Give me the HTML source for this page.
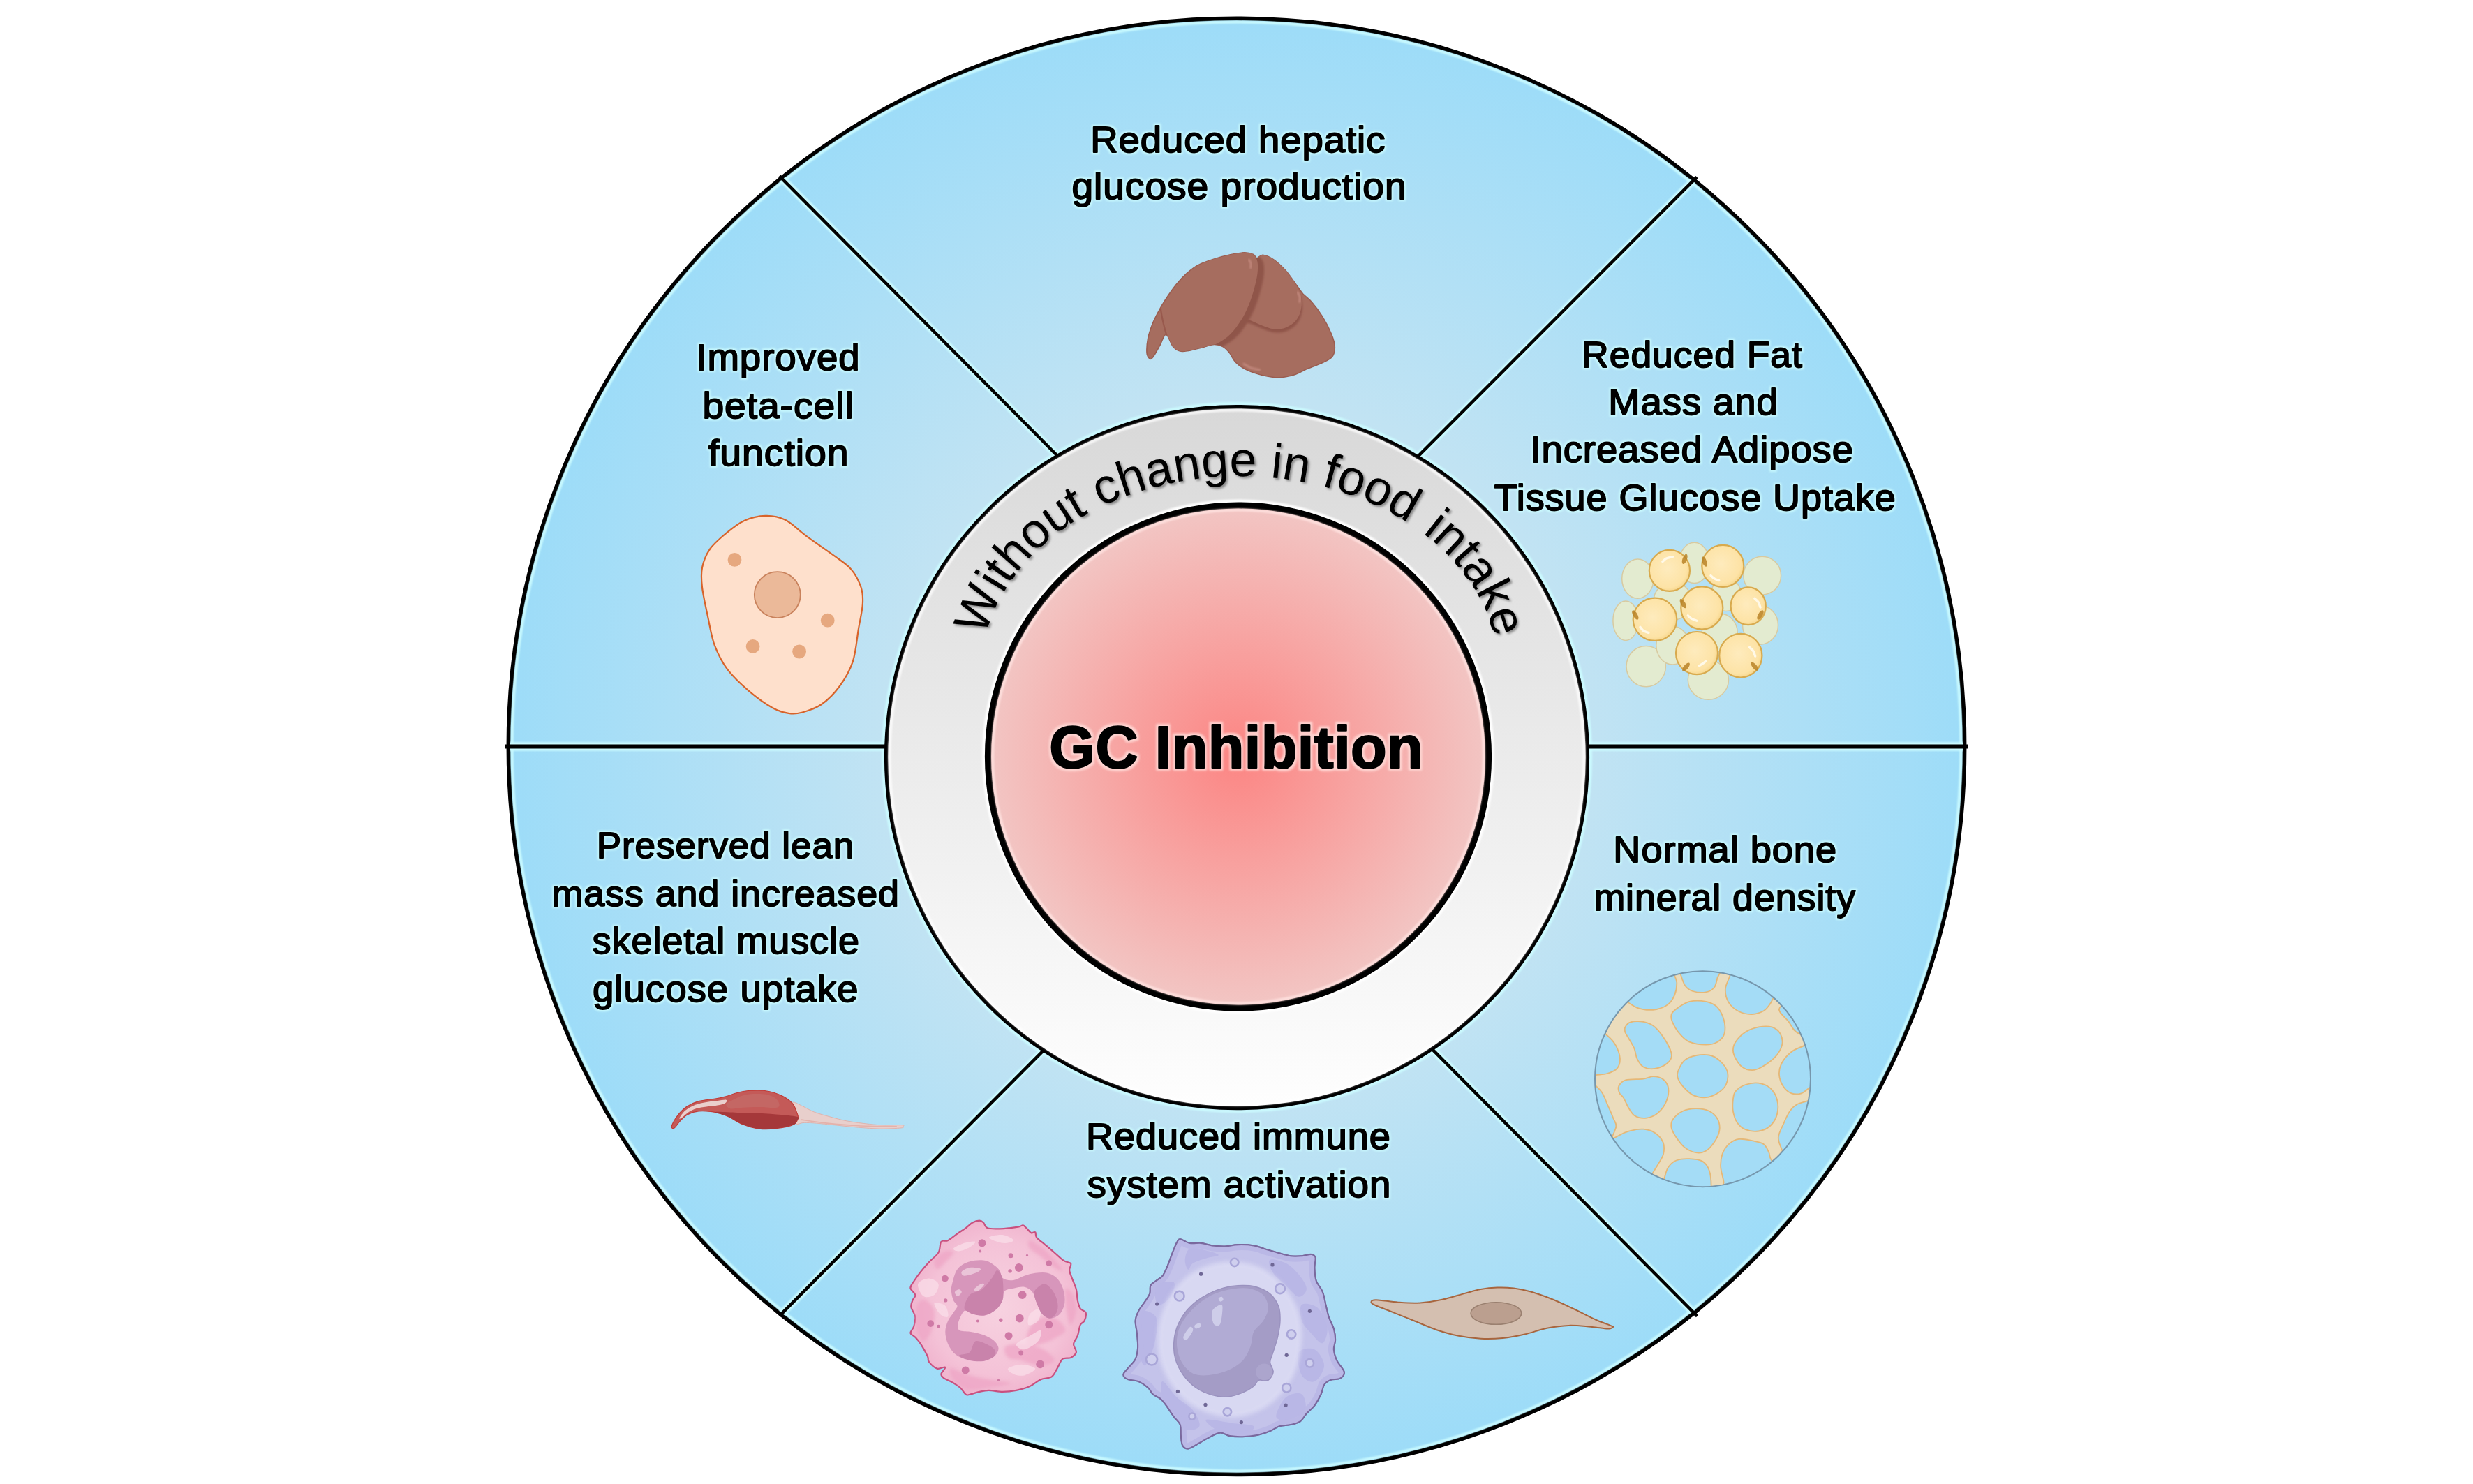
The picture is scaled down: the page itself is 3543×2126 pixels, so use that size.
<!DOCTYPE html>
<html>
<head>
<meta charset="utf-8">
<title>GC Inhibition</title>
<style>
html,body{margin:0;padding:0;background:#fff;}
body{width:3543px;height:2126px;overflow:hidden;font-family:"Liberation Sans",sans-serif;}
svg{display:block;position:absolute;left:0;top:0;}
.lbl{font-family:"Liberation Sans",sans-serif;font-weight:normal;font-size:51px;fill:#000;text-anchor:middle;stroke:#000;stroke-width:1.8px;stroke-linejoin:round;}
.ttl{font-family:"Liberation Sans",sans-serif;font-weight:bold;font-size:84.5px;fill:#000;text-anchor:middle;stroke:#000;stroke-width:2.2px;stroke-linejoin:round;}
.arc{font-family:"Liberation Sans",sans-serif;font-weight:normal;font-size:70px;fill:#000;text-anchor:start;}
</style>
</head>
<body>
<svg width="3543" height="2126" viewBox="0 0 3543 2126">
<defs>
<radialGradient id="gBlue" gradientUnits="userSpaceOnUse" cx="1771.5" cy="1069.4" r="1042.6">
<stop offset="0" stop-color="#e1eaef"/>
<stop offset="0.485" stop-color="#c1e3f3"/>
<stop offset="1" stop-color="#9ddcf8"/>
</radialGradient>
<linearGradient id="gRing" gradientUnits="userSpaceOnUse" x1="0" y1="583" x2="0" y2="1588">
<stop offset="0" stop-color="#d8d8d8"/>
<stop offset="1" stop-color="#fefefe"/>
</linearGradient>
<radialGradient id="gRed" gradientUnits="userSpaceOnUse" cx="1774" cy="1084" r="360">
<stop offset="0" stop-color="#fc8583"/>
<stop offset="1" stop-color="#f2c6c4"/>
</radialGradient>
<filter id="fSh" x="-5%" y="-20%" width="110%" height="140%">
<feDropShadow dx="2.5" dy="2.5" stdDeviation="1.6" flood-color="#000" flood-opacity="0.38"/>
</filter>
<filter id="fHalo" x="-3%" y="-8%" width="106%" height="116%" color-interpolation-filters="sRGB">
<feMorphology in="SourceAlpha" operator="dilate" radius="2.4" result="d"/>
<feGaussianBlur in="d" stdDeviation="1.5" result="b"/>
<feFlood flood-color="#cbfcff" flood-opacity="0.88"/>
<feComposite in2="b" operator="in" result="h"/>
<feMerge><feMergeNode in="h"/><feMergeNode in="SourceGraphic"/></feMerge>
</filter>
<filter id="fHaloR" x="-3%" y="-8%" width="106%" height="116%" color-interpolation-filters="sRGB">
<feMorphology in="SourceAlpha" operator="dilate" radius="2.8" result="d"/>
<feGaussianBlur in="d" stdDeviation="1.5" result="b"/>
<feFlood flood-color="#ffdcd9" flood-opacity="0.85"/>
<feComposite in2="b" operator="in" result="h"/>
<feMerge><feMergeNode in="h"/><feMergeNode in="SourceGraphic"/></feMerge>
</filter>
<filter id="fB1" filterUnits="userSpaceOnUse" x="700" y="0" width="2150" height="2126"><feGaussianBlur stdDeviation="1"/></filter>
<clipPath id="cpOuter"><circle cx="1771.5" cy="1069.4" r="1041"/></clipPath>
<path id="arcPath" d="M 1406.88 960.23 A 369.7 278.04 0 0 1 2146.28 960.23"/>
</defs>

<g id="base">
<circle cx="1771.5" cy="1069.4" r="1043" fill="url(#gBlue)" stroke="#000" stroke-width="5.9"/>
<g clip-path="url(#cpOuter)"><g stroke="#cbfcff" stroke-opacity="0.95" fill="none" filter="url(#fB1)">
<g stroke-width="11">
<line x1="1116.6" y1="252.2" x2="1515" y2="653"/>
<line x1="2431.1" y1="253.6" x2="2031.6" y2="653.7"/>
<line x1="1117" y1="1884.9" x2="1495" y2="1504.8"/>
<line x1="2431.6" y1="1885.7" x2="2051" y2="1502.2"/>
</g>
<g stroke-width="12.5">
<line x1="723" y1="1069.6" x2="1272" y2="1069.6"/>
<line x1="2272" y1="1069.6" x2="2820" y2="1069.6"/>
</g>
<circle cx="1771.5" cy="1069.4" r="1038" stroke-width="4"/>
<circle cx="1772" cy="1085.1" r="507" stroke-width="4"/>
</g></g>
<g stroke="#000" stroke-width="4.6" fill="none">
<line x1="1116.6" y1="252.2" x2="1515" y2="653"/>
<line x1="2431.1" y1="253.6" x2="2031.6" y2="653.7"/>
<line x1="1117" y1="1884.9" x2="1495" y2="1504.8"/>
<line x1="2431.6" y1="1885.7" x2="2051" y2="1502.2"/>
</g>
<g stroke="#000" stroke-width="6" fill="none">
<line x1="723" y1="1069.6" x2="1272" y2="1069.6"/>
<line x1="2272" y1="1069.6" x2="2820" y2="1069.6"/>
</g>
</g>

<g id="centre">
<circle cx="1772" cy="1085.1" r="502.4" fill="url(#gRing)" stroke="#000" stroke-width="5.4"/>
<circle cx="1772" cy="1085.1" r="497.6" fill="none" stroke="#fff" stroke-opacity="0.75" stroke-width="4" filter="url(#fB1)"/>
<ellipse cx="1774" cy="1084" rx="358.5" ry="360" fill="none" stroke="#fff" stroke-opacity="0.95" stroke-width="17" filter="url(#fB1)"/>
<ellipse cx="1774" cy="1084" rx="358.5" ry="360" fill="url(#gRed)" stroke="#000" stroke-width="9.2"/>
<ellipse cx="1774" cy="1084" rx="351.9" ry="353.4" fill="none" stroke="#ffe3e1" stroke-opacity="0.85" stroke-width="4" filter="url(#fB1)"/>
<text class="arc" filter="url(#fSh)"><textPath href="#arcPath" startOffset="48.3">Without change in food <tspan dx="5">intake</tspan></textPath></text>
<text class="ttl" filter="url(#fHaloR)" x="1771.2" y="1100.2" letter-spacing="0.42">GC Inhibition</text>
</g>

<g id="icons">
<g id="liver">
<defs><clipPath id="cpLiver"><path d="M1782.9 361.8C1788.3 361.7 1792.6 363.1 1795.6 364.4C1798.6 365.7 1798.6 369.5 1800.8 369.7C1803.1 369.8 1805.2 365.0 1809.2 365.3C1813.2 365.7 1819.3 368.2 1824.7 371.8C1830.1 375.5 1836.6 381.7 1841.7 387.3C1846.9 393.0 1851.6 400.4 1855.7 405.9C1859.8 411.5 1862.7 416.3 1866.5 420.7C1870.4 425.0 1874.3 426.9 1878.9 432.3C1883.6 437.7 1889.7 445.5 1894.4 453.2C1899.2 460.9 1904.6 471.4 1907.6 478.8C1910.6 486.1 1912.1 491.9 1912.3 497.4C1912.4 502.8 1911.4 507.6 1908.4 511.3C1905.4 515.1 1900.6 516.9 1894.4 519.8C1888.2 522.8 1877.6 526.4 1871.2 529.1C1864.7 531.9 1862.2 534.5 1855.7 536.4C1849.2 538.4 1840.2 540.5 1832.5 540.8C1824.7 541.0 1817.0 539.5 1809.2 537.7C1801.5 535.8 1792.4 533.0 1786.0 529.9C1779.5 526.8 1774.6 523.2 1770.5 519.1C1766.3 514.9 1764.3 508.9 1761.2 505.1C1758.1 501.4 1755.5 498.5 1751.9 496.6C1748.3 494.7 1744.1 493.4 1739.5 493.5C1734.8 493.6 1730.4 495.8 1724.0 497.4C1717.5 498.9 1706.4 501.9 1700.7 502.8C1695.0 503.7 1693.2 503.8 1689.9 502.8C1686.5 501.8 1683.8 500.5 1680.6 496.6C1677.4 492.6 1673.6 479.5 1670.5 479.1C1667.4 478.7 1665.1 488.8 1662.0 494.3C1658.9 499.7 1654.4 508.3 1651.9 511.6C1649.5 514.9 1648.7 515.1 1647.3 514.1C1645.8 513.1 1643.5 510.7 1643.1 505.9C1642.6 501.0 1643.3 491.8 1644.6 485.0C1645.9 478.1 1648.5 471.0 1650.8 464.8C1653.2 458.6 1655.7 453.7 1658.9 447.8C1662.0 441.8 1665.3 435.9 1669.7 429.2C1674.1 422.5 1680.1 413.8 1685.2 407.5C1690.4 401.2 1695.6 395.8 1700.7 391.2C1705.9 386.6 1709.8 383.3 1716.2 379.9C1722.7 376.5 1731.7 373.6 1739.5 371.1C1747.2 368.6 1755.5 366.4 1762.7 364.9C1769.9 363.3 1777.4 361.8 1782.9 361.8Z"/></clipPath><filter id="fBl2" x="-10%" y="-10%" width="120%" height="120%"><feGaussianBlur stdDeviation="1.8"/></filter><filter id="fBl1" x="-20%" y="-20%" width="140%" height="140%"><feGaussianBlur stdDeviation="0.9"/></filter></defs>
<path d="M1782.9 361.8C1788.3 361.7 1792.6 363.1 1795.6 364.4C1798.6 365.7 1798.6 369.5 1800.8 369.7C1803.1 369.8 1805.2 365.0 1809.2 365.3C1813.2 365.7 1819.3 368.2 1824.7 371.8C1830.1 375.5 1836.6 381.7 1841.7 387.3C1846.9 393.0 1851.6 400.4 1855.7 405.9C1859.8 411.5 1862.7 416.3 1866.5 420.7C1870.4 425.0 1874.3 426.9 1878.9 432.3C1883.6 437.7 1889.7 445.5 1894.4 453.2C1899.2 460.9 1904.6 471.4 1907.6 478.8C1910.6 486.1 1912.1 491.9 1912.3 497.4C1912.4 502.8 1911.4 507.6 1908.4 511.3C1905.4 515.1 1900.6 516.9 1894.4 519.8C1888.2 522.8 1877.6 526.4 1871.2 529.1C1864.7 531.9 1862.2 534.5 1855.7 536.4C1849.2 538.4 1840.2 540.5 1832.5 540.8C1824.7 541.0 1817.0 539.5 1809.2 537.7C1801.5 535.8 1792.4 533.0 1786.0 529.9C1779.5 526.8 1774.6 523.2 1770.5 519.1C1766.3 514.9 1764.3 508.9 1761.2 505.1C1758.1 501.4 1755.5 498.5 1751.9 496.6C1748.3 494.7 1744.1 493.4 1739.5 493.5C1734.8 493.6 1730.4 495.8 1724.0 497.4C1717.5 498.9 1706.4 501.9 1700.7 502.8C1695.0 503.7 1693.2 503.8 1689.9 502.8C1686.5 501.8 1683.8 500.5 1680.6 496.6C1677.4 492.6 1673.6 479.5 1670.5 479.1C1667.4 478.7 1665.1 488.8 1662.0 494.3C1658.9 499.7 1654.4 508.3 1651.9 511.6C1649.5 514.9 1648.7 515.1 1647.3 514.1C1645.8 513.1 1643.5 510.7 1643.1 505.9C1642.6 501.0 1643.3 491.8 1644.6 485.0C1645.9 478.1 1648.5 471.0 1650.8 464.8C1653.2 458.6 1655.7 453.7 1658.9 447.8C1662.0 441.8 1665.3 435.9 1669.7 429.2C1674.1 422.5 1680.1 413.8 1685.2 407.5C1690.4 401.2 1695.6 395.8 1700.7 391.2C1705.9 386.6 1709.8 383.3 1716.2 379.9C1722.7 376.5 1731.7 373.6 1739.5 371.1C1747.2 368.6 1755.5 366.4 1762.7 364.9C1769.9 363.3 1777.4 361.8 1782.9 361.8Z" fill="#a66d5f" stroke="#9b5d50" stroke-width="1.6"/>
<g clip-path="url(#cpLiver)">
<path d="M1809.2 365.3C1814.4 364.6 1819.3 368.2 1824.7 371.8C1830.1 375.5 1836.6 381.7 1841.7 387.3C1846.9 393.0 1852.1 400.0 1855.7 405.9C1859.3 411.9 1862.0 417.0 1863.4 423.0C1864.9 428.9 1865.3 435.6 1864.2 441.6C1863.2 447.5 1861.0 454.0 1857.2 458.6C1853.5 463.3 1847.2 467.4 1841.7 469.5C1836.3 471.6 1830.1 471.8 1824.7 471.3C1819.3 470.9 1814.4 468.6 1809.2 466.7C1804.0 464.8 1798.9 462.0 1793.7 459.9C1788.5 457.7 1782.1 457.5 1778.2 454.0C1774.3 450.4 1770.5 446.2 1770.5 438.5C1770.5 430.7 1774.3 417.8 1778.2 407.5C1782.1 397.2 1788.5 383.5 1793.7 376.5C1798.9 369.5 1804.0 366.1 1809.2 365.3Z" fill="#90544a" transform="translate(1.2,5)" filter="url(#fBl2)"/>
<path d="M1809.2 365.3C1814.4 364.6 1819.3 368.2 1824.7 371.8C1830.1 375.5 1836.6 381.7 1841.7 387.3C1846.9 393.0 1852.1 400.0 1855.7 405.9C1859.3 411.9 1862.0 417.0 1863.4 423.0C1864.9 428.9 1865.3 435.6 1864.2 441.6C1863.2 447.5 1861.0 454.0 1857.2 458.6C1853.5 463.3 1847.2 467.4 1841.7 469.5C1836.3 471.6 1830.1 471.8 1824.7 471.3C1819.3 470.9 1814.4 468.6 1809.2 466.7C1804.0 464.8 1798.9 462.0 1793.7 459.9C1788.5 457.7 1782.1 457.5 1778.2 454.0C1774.3 450.4 1770.5 446.2 1770.5 438.5C1770.5 430.7 1774.3 417.8 1778.2 407.5C1782.1 397.2 1788.5 383.5 1793.7 376.5C1798.9 369.5 1804.0 366.1 1809.2 365.3Z" fill="#a66d5f"/>
<path d="M1782.9 361.8C1787.0 362.0 1792.5 362.2 1795.6 364.4C1798.7 366.6 1800.5 370.3 1801.5 374.9C1802.4 379.5 1802.2 385.5 1801.5 392.0C1800.7 398.4 1798.9 406.2 1796.8 413.7C1794.7 421.2 1792.2 429.4 1789.1 436.9C1786.0 444.4 1782.6 451.6 1778.2 458.6C1773.8 465.6 1768.4 473.2 1762.7 478.8C1757.0 484.3 1750.6 488.8 1744.1 491.9C1737.7 495.0 1731.2 495.6 1724.0 497.4C1716.7 499.2 1706.4 501.9 1700.7 502.8C1695.0 503.7 1693.2 503.8 1689.9 502.8C1686.5 501.8 1683.4 499.8 1680.6 496.6C1677.7 493.4 1674.6 487.9 1672.8 483.4C1671.1 478.9 1670.4 474.9 1670.0 469.5C1669.7 464.0 1670.0 457.1 1671.0 450.9C1672.0 444.7 1673.6 438.5 1675.9 432.3C1678.3 426.1 1681.6 419.6 1685.2 413.7C1688.8 407.7 1693.2 401.7 1697.6 396.6C1702.0 391.6 1705.9 387.3 1711.6 383.5C1717.3 379.6 1724.5 376.2 1731.7 373.4C1739.0 370.5 1748.5 368.2 1755.0 366.4C1761.4 364.7 1765.8 363.6 1770.5 362.9C1775.1 362.1 1778.7 361.5 1782.9 361.8Z" fill="#8f5449" transform="translate(9,3.5)" filter="url(#fBl2)"/>
<path d="M1782.9 361.8C1787.0 362.0 1792.5 362.2 1795.6 364.4C1798.7 366.6 1800.5 370.3 1801.5 374.9C1802.4 379.5 1802.2 385.5 1801.5 392.0C1800.7 398.4 1798.9 406.2 1796.8 413.7C1794.7 421.2 1792.2 429.4 1789.1 436.9C1786.0 444.4 1782.6 451.6 1778.2 458.6C1773.8 465.6 1768.4 473.2 1762.7 478.8C1757.0 484.3 1750.6 488.8 1744.1 491.9C1737.7 495.0 1731.2 495.6 1724.0 497.4C1716.7 499.2 1706.4 501.9 1700.7 502.8C1695.0 503.7 1693.2 503.8 1689.9 502.8C1686.5 501.8 1683.4 499.8 1680.6 496.6C1677.7 493.4 1674.6 487.9 1672.8 483.4C1671.1 478.9 1670.4 474.9 1670.0 469.5C1669.7 464.0 1670.0 457.1 1671.0 450.9C1672.0 444.7 1673.6 438.5 1675.9 432.3C1678.3 426.1 1681.6 419.6 1685.2 413.7C1688.8 407.7 1693.2 401.7 1697.6 396.6C1702.0 391.6 1705.9 387.3 1711.6 383.5C1717.3 379.6 1724.5 376.2 1731.7 373.4C1739.0 370.5 1748.5 368.2 1755.0 366.4C1761.4 364.7 1765.8 363.6 1770.5 362.9C1775.1 362.1 1778.7 361.5 1782.9 361.8Z" fill="#a66d5f"/>
<path d="M1662.8 441.6C1663.1 443.6 1663.9 449.6 1664.8 454.0C1665.6 458.4 1666.7 463.4 1667.9 467.9C1669.0 472.4 1671.0 478.9 1671.6 481.1" fill="none" stroke="#98594d" stroke-width="2.2"/>
</g>
<path d="M1789.4 372.6C1789.8 373.4 1791.7 375.5 1792.2 377.3C1792.6 379.1 1791.9 382.4 1791.8 383.5" fill="none" stroke="#c98f84" stroke-width="3.4" stroke-linecap="round" opacity="0.7" filter="url(#fBl1)"/>
<path d="M1859.1 419.1C1859.6 420.1 1861.7 423.1 1862.2 425.3C1862.7 427.5 1861.9 431.1 1861.9 432.3" fill="none" stroke="#c98f84" stroke-width="3.4" stroke-linecap="round" opacity="0.7" filter="url(#fBl1)"/>
<path d="M1782.1 521.4C1783.8 522.3 1788.4 525.7 1792.2 527.1C1795.9 528.5 1802.5 529.4 1804.6 529.9" fill="none" stroke="#c98f84" stroke-width="3.4" stroke-linecap="round" opacity="0.7" filter="url(#fBl1)"/>
</g>
<g id="betacell">
<path d="M1096.8 738.9C1106.6 738.7 1115.3 739.9 1125.1 744.8C1134.9 749.7 1144.0 759.7 1155.8 768.4C1167.5 777.0 1185.2 788.8 1195.8 796.7C1206.5 804.6 1213.1 808.1 1219.4 815.6C1225.7 823.0 1230.8 833.3 1233.6 841.5C1236.3 849.8 1236.5 855.3 1235.9 865.1C1235.4 874.9 1232.4 886.7 1230.0 900.5C1227.7 914.2 1226.3 933.9 1221.8 947.6C1217.3 961.4 1210.4 972.8 1202.9 983.0C1195.5 993.2 1186.0 1002.7 1177.0 1009.0C1167.9 1015.3 1156.5 1018.6 1148.7 1020.8C1140.8 1022.9 1136.9 1023.1 1129.8 1021.9C1122.7 1020.8 1115.7 1019.0 1106.2 1013.7C1096.8 1008.4 1083.8 999.1 1073.2 990.1C1062.6 981.1 1050.8 970.4 1042.5 959.4C1034.3 948.4 1028.4 936.6 1023.7 924.1C1019.0 911.5 1017.2 897.7 1014.2 884.0C1011.3 870.2 1007.4 853.3 1006.0 841.5C1004.6 829.7 1004.2 822.2 1006.0 813.2C1007.8 804.2 1011.3 795.1 1016.6 787.3C1021.9 779.4 1029.6 772.9 1037.8 766.0C1046.1 759.2 1056.3 750.5 1066.1 746.0C1076.0 741.5 1087.0 739.1 1096.8 738.9Z" fill="#fee0cc" stroke="#d8632a" stroke-width="2.2"/>
<circle cx="1113.8" cy="852.1" r="33.0" fill="#ebb999" stroke="#c9825c" stroke-width="1.8"/>
<circle cx="1052.5" cy="801.9" r="9.9" fill="#e6a87f"/>
<circle cx="1185.7" cy="888.7" r="9.9" fill="#e6a87f"/>
<circle cx="1078.6" cy="925.9" r="9.9" fill="#e6a87f"/>
<circle cx="1145.1" cy="933.5" r="9.9" fill="#e6a87f"/>
</g>
<g id="fat">
<defs><radialGradient id="gFat" cx="0.45" cy="0.45" r="0.6"><stop offset="0" stop-color="#feebbd"/><stop offset="0.78" stop-color="#fde3a6"/><stop offset="1" stop-color="#f4d385"/></radialGradient></defs>
<ellipse cx="2346.4" cy="829.1" rx="22.7" ry="28.2" fill="#e3ebd0" stroke="#d8caa0" stroke-width="1.5"/>
<ellipse cx="2427.4" cy="806.4" rx="21.8" ry="29.1" fill="#e3ebd0" stroke="#d8caa0" stroke-width="1.5"/>
<ellipse cx="2524.7" cy="824.6" rx="26.9" ry="27.3" fill="#e3ebd0" stroke="#d8caa0" stroke-width="1.5"/>
<ellipse cx="2329.1" cy="889.2" rx="18.2" ry="28.2" fill="#e3ebd0" stroke="#d8caa0" stroke-width="1.5"/>
<ellipse cx="2522.0" cy="895.5" rx="25.5" ry="27.7" fill="#e3ebd0" stroke="#d8caa0" stroke-width="1.5"/>
<ellipse cx="2358.2" cy="954.7" rx="28.2" ry="29.1" fill="#e3ebd0" stroke="#d8caa0" stroke-width="1.5"/>
<ellipse cx="2447.4" cy="974.1" rx="29.1" ry="28.2" fill="#e3ebd0" stroke="#d8caa0" stroke-width="1.5"/>
<ellipse cx="2396.4" cy="861.0" rx="27.3" ry="27.3" fill="#e3ebd0" stroke="#d8caa0" stroke-width="1.5"/>
<ellipse cx="2463.7" cy="906.4" rx="25.5" ry="27.3" fill="#e3ebd0" stroke="#d8caa0" stroke-width="1.5"/>
<ellipse cx="2396.4" cy="924.6" rx="23.6" ry="27.3" fill="#e3ebd0" stroke="#d8caa0" stroke-width="1.5"/>
<ellipse cx="2472.8" cy="851.9" rx="21.8" ry="23.6" fill="#e3ebd0" stroke="#d8caa0" stroke-width="1.5"/>
<ellipse cx="2391.9" cy="817.3" rx="29.1" ry="29.5" fill="url(#gFat)" stroke="#d8aa4e" stroke-width="2.2"/>
<ellipse cx="2468.3" cy="810.9" rx="30.0" ry="30.0" fill="url(#gFat)" stroke="#d8aa4e" stroke-width="2.2"/>
<ellipse cx="2438.3" cy="871.0" rx="30.0" ry="30.6" fill="url(#gFat)" stroke="#d8aa4e" stroke-width="2.2"/>
<ellipse cx="2504.7" cy="868.2" rx="25.1" ry="26.9" fill="url(#gFat)" stroke="#d8aa4e" stroke-width="2.2"/>
<ellipse cx="2371.0" cy="887.3" rx="31.3" ry="30.6" fill="url(#gFat)" stroke="#d8aa4e" stroke-width="2.2"/>
<ellipse cx="2431.0" cy="935.6" rx="30.0" ry="30.6" fill="url(#gFat)" stroke="#d8aa4e" stroke-width="2.2"/>
<ellipse cx="2493.8" cy="939.2" rx="30.6" ry="31.3" fill="url(#gFat)" stroke="#d8aa4e" stroke-width="2.2"/>
<ellipse cx="2413.7" cy="800.9" rx="3.2" ry="7.5" transform="rotate(20 2413.7 800.9)" fill="#b98327" opacity="0.85"/>
<ellipse cx="2441.9" cy="804.6" rx="3.2" ry="7.5" transform="rotate(-20 2441.9 804.6)" fill="#b98327" opacity="0.85"/>
<ellipse cx="2411.3" cy="864.6" rx="3.2" ry="7.5" transform="rotate(-30 2411.3 864.6)" fill="#b98327" opacity="0.85"/>
<ellipse cx="2522.0" cy="881.0" rx="3.2" ry="7.5" transform="rotate(30 2522.0 881.0)" fill="#b98327" opacity="0.85"/>
<ellipse cx="2342.8" cy="881.0" rx="3.2" ry="7.5" transform="rotate(-30 2342.8 881.0)" fill="#b98327" opacity="0.85"/>
<ellipse cx="2415.5" cy="955.6" rx="3.2" ry="7.5" transform="rotate(40 2415.5 955.6)" fill="#b98327" opacity="0.85"/>
<ellipse cx="2513.8" cy="954.7" rx="3.2" ry="7.5" transform="rotate(-40 2513.8 954.7)" fill="#b98327" opacity="0.85"/>
<path d="M2381.9 804.6C2382.8 803.8 2384.9 801.2 2387.3 800.0C2389.8 798.9 2394.9 798.1 2396.4 797.7" fill="none" stroke="#fffbee" stroke-width="3.4" stroke-linecap="round" opacity="0.9"/>
<path d="M2451.0 824.6C2451.9 825.3 2454.5 828.0 2456.5 829.1C2458.4 830.3 2461.8 831.1 2462.8 831.5" fill="none" stroke="#fffbee" stroke-width="3.4" stroke-linecap="round" opacity="0.9"/>
<path d="M2418.3 881.9C2419.2 882.6 2421.6 885.2 2423.7 886.4C2425.8 887.7 2429.8 888.7 2431.0 889.2" fill="none" stroke="#fffbee" stroke-width="3.4" stroke-linecap="round" opacity="0.9"/>
<path d="M2513.8 857.3C2514.7 858.2 2517.9 860.7 2519.2 862.8C2520.6 864.9 2521.5 868.9 2522.0 870.1" fill="none" stroke="#fffbee" stroke-width="3.4" stroke-linecap="round" opacity="0.9"/>
<path d="M2350.0 898.3C2350.8 899.2 2352.6 902.4 2354.6 903.7C2356.6 905.1 2360.7 906.0 2361.9 906.4" fill="none" stroke="#fffbee" stroke-width="3.4" stroke-linecap="round" opacity="0.9"/>
<path d="M2434.6 953.7C2435.5 953.1 2438.6 951.2 2440.1 950.1C2441.6 949.0 2443.1 947.8 2443.7 947.4" fill="none" stroke="#fffbee" stroke-width="3.4" stroke-linecap="round" opacity="0.9"/>
<path d="M2506.5 927.4C2507.4 928.3 2510.6 930.7 2511.9 932.8C2513.3 934.9 2514.2 938.9 2514.7 940.1" fill="none" stroke="#fffbee" stroke-width="3.4" stroke-linecap="round" opacity="0.9"/>
</g>
<g id="bone">
<defs><clipPath id="cpBone"><circle cx="2439.5" cy="1545.7" r="154.5"/></clipPath></defs>
<circle cx="2439.5" cy="1545.7" r="154.5" fill="#ebdcbc"/>
<g clip-path="url(#cpBone)" fill="#a4dcf6" stroke="#e6b877" stroke-width="1.8">
<path d="M2403.9 1379.4C2394.5 1382.6 2406.9 1392.8 2408.6 1398.3C2410.4 1403.8 2411.8 1408.8 2414.5 1412.5C2417.3 1416.1 2420.2 1418.5 2425.1 1420.0C2430.0 1421.5 2438.9 1422.3 2444.0 1421.4C2449.1 1420.6 2453.0 1418.3 2455.8 1414.8C2458.6 1411.4 2458.9 1406.6 2460.5 1400.7C2462.1 1394.8 2474.7 1383.0 2465.2 1379.4C2455.8 1375.9 2413.3 1376.3 2403.9 1379.4Z"/>
<path d="M2295.4 1405.4C2285.9 1415.5 2325.7 1431.2 2335.5 1437.9C2345.3 1444.7 2348.1 1444.6 2354.4 1446.0C2360.7 1447.3 2367.3 1447.1 2373.2 1446.0C2379.1 1444.8 2385.4 1442.3 2389.7 1438.9C2394.1 1435.5 2397.1 1430.6 2399.2 1425.4C2401.3 1420.2 2402.4 1412.9 2402.3 1407.7C2402.1 1402.6 2399.7 1399.9 2398.0 1394.8C2396.3 1389.7 2409.2 1375.3 2392.1 1377.1C2375.0 1378.8 2304.8 1395.2 2295.4 1405.4Z"/>
<path d="M2484.1 1379.4C2465.4 1381.8 2480.3 1392.0 2478.2 1398.3C2476.2 1404.6 2472.1 1410.9 2471.8 1417.2C2471.6 1423.5 2473.3 1430.7 2476.6 1436.1C2479.8 1441.4 2485.6 1446.2 2491.2 1449.0C2496.8 1451.9 2504.2 1453.2 2510.1 1453.0C2516.0 1452.9 2522.3 1450.7 2526.6 1448.3C2530.8 1446.0 2533.1 1442.1 2535.5 1438.9C2538.0 1435.7 2538.4 1433.0 2541.2 1429.0C2544.0 1425.0 2544.3 1422.3 2552.5 1414.8C2560.7 1407.4 2601.7 1390.1 2590.3 1384.2C2578.9 1378.3 2502.8 1377.1 2484.1 1379.4Z"/>
<path d="M2551.3 1442.0C2542.9 1447.8 2558.8 1457.9 2563.1 1464.4C2567.5 1470.8 2568.8 1476.9 2577.3 1480.9C2585.7 1484.8 2607.8 1496.6 2613.9 1488.0C2620.0 1479.3 2624.3 1436.6 2613.9 1429.0C2603.4 1421.3 2559.8 1436.1 2551.3 1442.0Z"/>
<path d="M2401.5 1445.5C2405.9 1442.3 2413.3 1436.6 2420.4 1434.9C2427.5 1433.1 2437.3 1433.5 2444.0 1434.9C2450.7 1436.2 2456.2 1438.6 2460.5 1443.1C2464.8 1447.7 2468.3 1455.7 2470.0 1462.0C2471.6 1468.3 2472.0 1475.8 2470.4 1480.9C2468.9 1486.0 2464.9 1490.0 2460.5 1492.7C2456.1 1495.3 2450.7 1496.7 2444.0 1496.7C2437.3 1496.7 2426.7 1495.3 2420.4 1492.7C2414.1 1490.0 2410.3 1485.6 2406.3 1480.9C2402.2 1476.2 2398.1 1468.9 2396.1 1464.4C2394.2 1459.8 2393.6 1456.9 2394.5 1453.7C2395.4 1450.6 2397.2 1448.6 2401.5 1445.5Z"/>
<path d="M2328.4 1471.4C2329.7 1469.0 2331.6 1465.6 2336.0 1464.4C2340.3 1463.1 2348.5 1462.7 2354.4 1463.9C2360.2 1465.1 2365.4 1466.6 2370.9 1471.4C2376.4 1476.2 2383.4 1486.0 2387.4 1492.7C2391.4 1499.4 2394.7 1506.4 2394.9 1511.5C2395.1 1516.7 2392.6 1520.1 2388.6 1523.3C2384.6 1526.6 2376.6 1530.0 2370.9 1530.9C2365.2 1531.8 2358.6 1530.9 2354.4 1528.5C2350.1 1526.2 2347.6 1521.1 2345.4 1516.7C2343.2 1512.3 2343.4 1506.9 2341.4 1502.1C2339.4 1497.3 2335.8 1491.8 2333.6 1488.0C2331.4 1484.1 2329.3 1481.7 2328.4 1479.0C2327.5 1476.2 2327.2 1473.9 2328.4 1471.4Z"/>
<path d="M2486.5 1492.7C2489.4 1488.3 2495.1 1482.1 2500.6 1478.5C2506.1 1475.0 2513.2 1472.6 2519.5 1471.4C2525.8 1470.3 2533.2 1469.9 2538.4 1471.4C2543.6 1473.0 2548.2 1476.6 2550.6 1480.9C2553.1 1485.2 2554.3 1491.8 2553.0 1497.4C2551.7 1503.0 2547.9 1509.2 2543.1 1514.4C2538.3 1519.6 2529.7 1525.4 2524.2 1528.5C2518.7 1531.7 2514.8 1533.2 2510.1 1533.2C2505.3 1533.2 2499.8 1531.4 2495.9 1528.5C2492.0 1525.7 2488.6 1520.3 2486.5 1516.3C2484.3 1512.3 2482.9 1508.4 2482.9 1504.5C2482.9 1500.5 2483.5 1497.0 2486.5 1492.7Z"/>
<path d="M2403.9 1535.1C2405.5 1530.8 2409.0 1522.9 2413.3 1519.1C2417.7 1515.2 2424.0 1513.3 2429.9 1512.0C2435.7 1510.8 2443.1 1510.4 2448.7 1511.5C2454.3 1512.7 2459.0 1515.2 2463.3 1519.1C2467.7 1523.0 2473.1 1529.3 2474.7 1535.1C2476.2 1541.0 2475.1 1548.8 2472.8 1554.0C2470.4 1559.2 2465.3 1563.2 2460.5 1566.3C2455.7 1569.3 2449.9 1571.8 2444.0 1572.2C2438.1 1572.6 2430.6 1571.3 2425.1 1568.6C2419.6 1566.0 2414.5 1560.3 2411.0 1556.4C2407.4 1552.4 2405.1 1548.6 2403.9 1545.0C2402.7 1541.5 2402.3 1539.5 2403.9 1535.1Z"/>
<path d="M2260.0 1543.4C2261.8 1556.1 2277.7 1541.2 2284.8 1540.3C2291.8 1539.4 2297.2 1539.5 2302.5 1538.0C2307.8 1536.4 2313.6 1534.5 2316.6 1530.9C2319.7 1527.3 2321.2 1521.8 2320.9 1516.3C2320.5 1510.7 2317.7 1502.8 2314.7 1497.4C2311.7 1492.0 2309.7 1489.2 2302.9 1483.7C2296.2 1478.2 2281.3 1454.4 2274.2 1464.4C2267.0 1474.3 2258.2 1530.7 2260.0 1543.4Z"/>
<path d="M2319.0 1556.4C2320.4 1553.3 2323.0 1549.2 2328.9 1547.4C2334.8 1545.6 2347.8 1546.6 2354.4 1545.7C2361.0 1544.9 2363.8 1542.1 2368.5 1542.2C2373.2 1542.3 2379.1 1543.5 2382.7 1546.2C2386.3 1549.0 2389.4 1553.5 2390.2 1558.7C2391.0 1564.0 2389.8 1571.7 2387.4 1577.6C2385.0 1583.5 2380.3 1590.1 2375.6 1594.1C2370.9 1598.1 2364.6 1600.9 2359.1 1601.7C2353.6 1602.4 2346.9 1601.3 2342.6 1598.8C2338.2 1596.4 2335.9 1591.4 2333.1 1587.0C2330.4 1582.7 2328.2 1576.4 2326.1 1572.9C2323.9 1569.3 2321.3 1568.6 2320.2 1565.8C2319.0 1563.0 2317.5 1559.4 2319.0 1556.4Z"/>
<path d="M2613.9 1483.2C2609.2 1474.6 2593.9 1493.5 2586.0 1497.4C2578.2 1501.3 2572.3 1502.5 2566.7 1506.8C2561.1 1511.1 2555.5 1517.8 2552.5 1523.3C2549.6 1528.8 2548.6 1534.3 2549.0 1539.9C2549.4 1545.4 2551.9 1552.0 2554.9 1556.4C2557.8 1560.8 2562.4 1564.6 2566.7 1566.3C2571.0 1567.9 2576.1 1567.8 2580.8 1566.3C2585.5 1564.7 2589.5 1559.7 2595.0 1556.8C2600.5 1554.0 2610.7 1561.6 2613.9 1549.3C2617.0 1537.0 2618.5 1491.9 2613.9 1483.2Z"/>
<path d="M2486.5 1563.4C2489.4 1559.9 2495.1 1556.0 2500.6 1554.0C2506.1 1552.0 2513.6 1550.9 2519.5 1551.6C2525.4 1552.4 2531.6 1554.8 2536.0 1558.7C2540.4 1562.7 2544.3 1568.9 2545.9 1575.2C2547.6 1581.5 2547.6 1590.2 2545.9 1596.5C2544.3 1602.8 2540.4 1609.0 2536.0 1613.0C2531.6 1617.0 2525.4 1619.7 2519.5 1620.5C2513.6 1621.4 2505.7 1620.2 2500.6 1618.2C2495.5 1616.1 2491.8 1612.7 2488.8 1608.3C2485.9 1603.9 2483.9 1597.3 2482.9 1591.8C2481.9 1586.2 2482.3 1580.0 2482.9 1575.2C2483.5 1570.5 2483.5 1567.0 2486.5 1563.4Z"/>
<path d="M2396.8 1603.5C2399.6 1599.6 2405.5 1594.3 2411.0 1591.8C2416.5 1589.2 2423.6 1588.2 2429.9 1588.2C2436.1 1588.2 2443.5 1589.2 2448.7 1591.8C2453.9 1594.3 2458.6 1598.8 2461.0 1603.5C2463.4 1608.3 2464.2 1614.6 2463.3 1620.1C2462.5 1625.6 2459.0 1631.8 2455.8 1636.6C2452.6 1641.4 2448.3 1646.4 2444.0 1648.8C2439.7 1651.3 2435.0 1652.1 2429.9 1651.2C2424.7 1650.3 2418.1 1647.3 2413.3 1643.6C2408.6 1640.0 2404.7 1634.2 2401.5 1629.5C2398.4 1624.8 2395.3 1619.7 2394.5 1615.3C2393.7 1611.0 2394.1 1607.5 2396.8 1603.5Z"/>
<path d="M2283.6 1653.1C2278.5 1638.9 2310.3 1632.6 2319.0 1627.1C2327.6 1621.6 2329.6 1621.6 2335.5 1620.1C2341.4 1618.5 2348.5 1617.2 2354.4 1617.7C2360.3 1618.2 2366.2 1619.7 2370.9 1622.9C2375.6 1626.0 2380.6 1631.5 2382.7 1636.6C2384.7 1641.6 2384.3 1647.9 2383.1 1653.1C2382.0 1658.3 2378.2 1663.0 2375.6 1667.7C2373.0 1672.4 2371.7 1674.0 2367.3 1681.4C2363.0 1688.8 2363.6 1716.8 2349.6 1712.1C2335.7 1707.3 2288.7 1667.2 2283.6 1653.1Z"/>
<path d="M2274.2 1554.0C2273.8 1540.8 2288.2 1557.5 2293.0 1562.3C2297.8 1567.0 2299.9 1575.8 2302.9 1582.3C2305.9 1588.8 2309.0 1595.5 2311.0 1601.2C2312.9 1606.9 2317.3 1609.8 2314.7 1616.5C2312.1 1623.2 2302.1 1651.7 2295.4 1641.3C2288.6 1630.9 2274.5 1567.2 2274.2 1554.0Z"/>
<path d="M2378.0 1719.1C2367.3 1713.6 2383.0 1694.0 2385.0 1686.1C2387.1 1678.2 2387.5 1675.9 2390.2 1672.0C2393.0 1668.0 2396.5 1664.5 2401.5 1662.5C2406.6 1660.6 2414.1 1659.9 2420.4 1660.2C2426.7 1660.4 2434.6 1661.2 2439.3 1663.9C2444.0 1666.7 2446.7 1670.8 2448.7 1676.7C2450.8 1682.5 2451.6 1692.0 2451.6 1699.1C2451.6 1706.2 2461.0 1715.8 2448.7 1719.1C2436.5 1722.5 2388.6 1724.6 2378.0 1719.1Z"/>
<path d="M2472.3 1719.1C2456.1 1718.0 2470.7 1701.1 2469.5 1693.2C2468.3 1685.3 2465.6 1678.6 2465.2 1672.0C2464.9 1665.3 2465.6 1658.6 2467.6 1653.1C2469.6 1647.6 2473.1 1642.5 2477.0 1638.9C2481.0 1635.4 2485.7 1632.6 2491.2 1631.9C2496.7 1631.1 2504.2 1633.0 2510.1 1634.2C2516.0 1635.4 2522.6 1636.2 2526.6 1638.9C2530.6 1641.7 2532.1 1646.6 2534.1 1650.7C2536.2 1654.9 2533.4 1655.4 2538.8 1663.7C2544.3 1672.0 2577.8 1691.0 2566.7 1700.3C2555.6 1709.5 2488.5 1720.3 2472.3 1719.1Z"/>
<path d="M2566.7 1676.7C2556.5 1675.5 2555.7 1653.9 2552.5 1646.0C2549.4 1638.1 2547.4 1635.4 2547.8 1629.5C2548.2 1623.6 2552.1 1616.9 2554.9 1610.6C2557.6 1604.3 2561.1 1596.5 2564.3 1591.8C2567.5 1587.0 2570.2 1584.7 2574.2 1582.3C2578.2 1580.0 2581.8 1579.6 2588.4 1577.6C2595.0 1575.6 2609.6 1557.9 2613.9 1570.5C2618.1 1583.1 2621.7 1635.4 2613.9 1653.1C2606.0 1670.8 2576.9 1677.9 2566.7 1676.7Z"/>
</g>
<circle cx="2439.5" cy="1545.7" r="154.5" fill="none" stroke="#7697ad" stroke-width="2"/>
</g>
<g id="muscle">
<path d="M1135.8 1579.2C1137.4 1577.9 1145.7 1582.9 1150.8 1585.2C1155.9 1587.5 1160.0 1590.6 1166.6 1593.1C1173.1 1595.6 1182.3 1598.0 1190.2 1600.2C1198.1 1602.3 1204.7 1604.3 1213.9 1606.0C1223.1 1607.7 1236.2 1609.4 1245.4 1610.4C1254.6 1611.4 1261.2 1611.8 1269.1 1612.0C1276.9 1612.2 1288.6 1611.4 1292.7 1611.7C1296.9 1612.0 1294.2 1613.2 1294.0 1613.9C1293.7 1614.6 1296.6 1615.4 1291.1 1615.9C1285.7 1616.5 1271.4 1617.2 1261.2 1617.1C1250.9 1616.9 1240.2 1616.0 1229.6 1615.2C1219.1 1614.3 1208.6 1613.1 1198.1 1612.0C1187.6 1611.0 1174.4 1609.4 1166.6 1608.9C1158.7 1608.3 1155.3 1608.4 1150.8 1608.5C1146.3 1608.7 1141.3 1612.2 1139.7 1609.6C1138.2 1607.1 1142.0 1598.2 1141.3 1593.1C1140.7 1588.0 1134.2 1580.5 1135.8 1579.2Z" fill="#e8cfcc" stroke="#dfb3ad" stroke-width="1"/>
<path d="M1147.6 1604.1C1153.4 1604.9 1168.7 1607.4 1182.3 1608.9C1196.0 1610.3 1212.6 1612.0 1229.6 1612.8C1246.7 1613.6 1275.6 1613.7 1284.8 1613.9" fill="none" stroke="#e2aaa3" stroke-width="1.6" opacity="0.8"/>
<path d="M962.3 1613.3C963.2 1610.2 967.5 1602.4 971.0 1597.8C974.6 1593.2 978.6 1588.9 983.6 1585.5C988.6 1582.1 994.1 1579.5 1001.0 1577.6C1007.8 1575.7 1018.1 1575.3 1024.6 1574.2C1031.2 1573.0 1035.1 1572.1 1040.4 1570.7C1045.6 1569.2 1050.9 1566.9 1056.2 1565.5C1061.4 1564.1 1065.4 1563.0 1071.9 1562.5C1078.5 1562.0 1087.7 1561.3 1095.6 1562.5C1103.5 1563.6 1112.7 1566.4 1119.2 1569.4C1125.8 1572.4 1131.3 1576.5 1135.0 1580.5C1138.7 1584.4 1140.0 1589.5 1141.3 1593.1C1142.7 1596.6 1144.0 1598.7 1143.2 1601.8C1142.4 1604.8 1141.9 1608.7 1136.6 1611.2C1131.3 1613.7 1119.5 1615.8 1111.4 1616.7C1103.2 1617.7 1095.6 1618.1 1087.7 1617.1C1079.8 1616.1 1071.4 1613.6 1064.0 1610.7C1056.7 1607.9 1050.1 1602.6 1043.5 1599.7C1037.0 1596.8 1031.7 1594.7 1024.6 1593.4C1017.5 1592.1 1007.5 1591.3 1001.0 1591.8C994.4 1592.3 989.5 1594.3 985.2 1596.6C980.9 1598.8 978.2 1602.1 974.9 1605.4C971.7 1608.6 968.1 1614.6 966.0 1615.9C963.9 1617.3 961.5 1616.3 962.3 1613.3Z" fill="#c45a58" stroke="#c23a36" stroke-width="1.2"/>
<path d="M1040.4 1582.0C1040.9 1579.9 1045.9 1577.8 1049.9 1575.7C1053.8 1573.6 1059.1 1570.9 1064.0 1569.4C1069.0 1568.0 1074.3 1567.3 1079.8 1567.1C1085.3 1566.8 1092.2 1566.9 1097.2 1567.8C1102.2 1568.8 1106.6 1570.5 1109.8 1572.6C1112.9 1574.7 1115.6 1578.1 1116.1 1580.5C1116.6 1582.8 1117.7 1585.9 1112.9 1586.8C1108.2 1587.7 1095.9 1586.0 1087.7 1586.0C1079.6 1586.0 1070.9 1586.4 1064.0 1586.8C1057.2 1587.2 1050.6 1589.1 1046.7 1588.4C1042.8 1587.6 1039.9 1584.1 1040.4 1582.0Z" fill="#c46866" opacity="0.9"/>
<path d="M1024.6 1593.1C1026.7 1592.1 1045.6 1593.6 1056.2 1593.9C1066.7 1594.1 1077.2 1594.1 1087.7 1594.7C1098.2 1595.2 1110.0 1596.1 1119.2 1597.0C1128.5 1597.9 1139.4 1598.9 1143.2 1600.2C1147.0 1601.5 1143.2 1603.1 1142.1 1604.9C1141.0 1606.7 1141.7 1609.2 1136.6 1611.2C1131.5 1613.2 1119.5 1615.8 1111.4 1616.7C1103.2 1617.7 1095.6 1618.1 1087.7 1617.1C1079.8 1616.1 1071.4 1613.6 1064.0 1610.7C1056.7 1607.9 1050.1 1602.6 1043.5 1599.7C1037.0 1596.8 1022.5 1594.1 1024.6 1593.1Z" fill="#a5383a"/>
<path d="M973.4 1601.8C974.2 1600.0 978.2 1593.9 982.0 1590.7C985.9 1587.6 991.2 1584.8 996.2 1582.8C1001.2 1580.9 1006.7 1579.9 1012.0 1578.9C1017.3 1577.9 1023.0 1577.5 1027.8 1577.0C1032.5 1576.5 1038.6 1575.2 1040.4 1575.7C1042.2 1576.3 1040.9 1579.2 1038.8 1580.5C1036.7 1581.8 1032.2 1582.8 1027.8 1583.6C1023.3 1584.5 1017.0 1584.8 1012.0 1585.5C1007.0 1586.2 1002.0 1586.8 997.8 1588.0C993.6 1589.3 990.2 1590.9 986.8 1593.1C983.4 1595.2 979.5 1599.5 977.3 1601.0C975.1 1602.4 972.6 1603.5 973.4 1601.8Z" fill="#ecd6d4" opacity="0.95"/>
</g>
<g id="neutro">
<defs><radialGradient id="gNeu" cx="0.5" cy="0.5" r="0.55"><stop offset="0" stop-color="#f7d2e0"/><stop offset="0.7" stop-color="#f4c2d7"/><stop offset="1" stop-color="#efb0cb"/></radialGradient><filter id="fBlN" x="-10%" y="-10%" width="120%" height="120%"><feGaussianBlur stdDeviation="2.2"/></filter><clipPath id="cpNeu"><path d="M1403.1 1748.6C1405.7 1748.6 1407.0 1749.7 1409.0 1751.5C1410.9 1753.3 1410.9 1757.8 1414.8 1759.3C1418.8 1760.8 1427.2 1760.3 1432.4 1760.3C1437.6 1760.3 1441.6 1759.8 1446.1 1759.3C1450.7 1758.8 1456.5 1758.0 1459.8 1757.4C1463.0 1756.7 1463.9 1755.1 1465.7 1755.4C1467.4 1755.7 1468.6 1757.5 1470.5 1759.3C1472.5 1761.1 1475.3 1765.2 1477.4 1766.2C1479.5 1767.1 1481.9 1764.0 1483.2 1765.2C1484.5 1766.3 1482.9 1770.1 1485.2 1773.0C1487.5 1775.9 1492.7 1779.2 1496.9 1782.8C1501.2 1786.3 1506.0 1790.6 1510.6 1794.5C1515.2 1798.4 1520.4 1803.6 1524.3 1806.2C1528.2 1808.8 1532.8 1807.8 1534.1 1810.1C1535.4 1812.4 1531.8 1816.3 1532.1 1819.9C1532.4 1823.5 1534.4 1827.1 1536.0 1831.6C1537.6 1836.2 1540.6 1842.0 1541.9 1847.3C1543.2 1852.5 1542.8 1858.3 1543.8 1862.9C1544.8 1867.5 1545.8 1871.7 1547.7 1874.6C1549.7 1877.5 1554.6 1877.5 1555.6 1880.5C1556.5 1883.4 1554.9 1889.3 1553.6 1892.2C1552.3 1895.1 1549.4 1894.5 1547.7 1898.1C1546.1 1901.7 1545.5 1909.1 1543.8 1913.7C1542.2 1918.3 1538.3 1921.5 1538.0 1925.4C1537.6 1929.3 1542.5 1933.9 1541.9 1937.2C1541.2 1940.4 1537.3 1943.3 1534.1 1945.0C1530.8 1946.6 1525.6 1944.3 1522.3 1946.9C1519.1 1949.5 1517.1 1956.4 1514.5 1960.6C1511.9 1964.8 1510.6 1969.7 1506.7 1972.3C1502.8 1974.9 1496.3 1974.0 1491.1 1976.2C1485.8 1978.5 1481.3 1983.4 1475.4 1986.0C1469.6 1988.6 1462.4 1990.6 1455.9 1991.9C1449.4 1993.2 1442.9 1993.8 1436.3 1993.8C1429.8 1993.8 1422.3 1991.9 1416.8 1991.9C1411.3 1991.9 1407.7 1992.8 1403.1 1993.8C1398.6 1994.8 1392.7 1997.1 1389.4 1997.7C1386.2 1998.4 1385.9 1999.4 1383.6 1997.7C1381.3 1996.1 1379.0 1990.9 1375.8 1988.0C1372.5 1985.0 1367.9 1982.4 1364.0 1980.1C1360.1 1977.9 1354.9 1976.2 1352.3 1974.3C1349.7 1972.3 1348.1 1971.0 1348.4 1968.4C1348.7 1965.8 1355.2 1960.0 1354.3 1958.6C1353.3 1957.3 1346.4 1961.9 1342.5 1960.6C1338.6 1959.3 1333.1 1953.8 1330.8 1950.8C1328.5 1947.9 1330.8 1947.2 1328.9 1943.0C1326.9 1938.8 1322.0 1930.0 1319.1 1925.4C1316.2 1920.9 1313.7 1918.3 1311.3 1915.7C1308.8 1913.0 1304.8 1912.4 1304.4 1909.8C1304.1 1907.2 1308.2 1903.9 1309.3 1900.0C1310.5 1896.1 1311.9 1890.9 1311.3 1886.3C1310.6 1881.8 1306.1 1876.6 1305.4 1872.7C1304.8 1868.8 1306.4 1865.8 1307.4 1862.9C1308.3 1860.0 1311.8 1858.0 1311.3 1855.1C1310.8 1852.1 1304.8 1848.6 1304.4 1845.3C1304.1 1842.0 1306.9 1839.4 1309.3 1835.5C1311.8 1831.6 1315.5 1826.4 1319.1 1821.9C1322.7 1817.3 1326.6 1812.7 1330.8 1808.2C1335.0 1803.6 1341.6 1799.4 1344.5 1794.5C1347.4 1789.6 1346.1 1781.8 1348.4 1778.9C1350.7 1775.9 1354.3 1778.9 1358.2 1776.9C1362.1 1774.9 1367.6 1770.1 1371.9 1767.1C1376.1 1764.2 1380.0 1761.9 1383.6 1759.3C1387.2 1756.7 1390.1 1753.3 1393.3 1751.5C1396.6 1749.7 1400.5 1748.6 1403.1 1748.6Z"/></clipPath><clipPath id="cpNuc"><path d="M1364.0 1839.4C1365.5 1833.9 1367.6 1823.3 1371.9 1817.9C1376.1 1812.6 1382.6 1809.1 1389.4 1807.2C1396.3 1805.2 1406.1 1804.4 1412.9 1806.2C1419.7 1808.0 1426.4 1813.7 1430.5 1817.9C1434.6 1822.2 1433.7 1829.0 1437.3 1831.6C1440.9 1834.3 1446.9 1834.6 1452.0 1834.0C1457.0 1833.3 1462.4 1829.4 1467.6 1827.7C1472.8 1826.0 1477.7 1824.5 1483.2 1823.8C1488.8 1823.2 1495.6 1822.5 1500.8 1823.8C1506.0 1825.1 1510.8 1827.7 1514.5 1831.6C1518.3 1835.5 1521.5 1841.4 1523.3 1847.3C1525.1 1853.1 1526.1 1860.9 1525.3 1866.8C1524.4 1872.7 1521.8 1878.8 1518.4 1882.4C1515.0 1886.1 1509.0 1888.7 1504.7 1888.7C1500.5 1888.7 1496.3 1886.1 1493.0 1882.4C1489.8 1878.8 1487.5 1872.0 1485.2 1866.8C1482.9 1861.6 1482.3 1855.0 1479.3 1851.2C1476.4 1847.3 1472.2 1844.7 1467.6 1843.7C1463.0 1842.8 1456.7 1844.7 1452.0 1845.7C1447.3 1846.7 1441.9 1846.7 1439.3 1849.6C1436.7 1852.5 1438.5 1858.4 1436.3 1862.9C1434.2 1867.4 1430.8 1873.0 1426.6 1876.6C1422.3 1880.2 1416.5 1883.4 1410.9 1884.4C1405.4 1885.4 1398.1 1883.6 1393.3 1882.4C1388.6 1881.3 1385.5 1876.9 1382.6 1877.5C1379.7 1878.2 1377.9 1882.9 1376.2 1886.3C1374.4 1889.8 1372.5 1894.8 1372.2 1898.1C1372.0 1901.3 1371.9 1904.3 1374.8 1905.9C1377.6 1907.5 1384.1 1906.9 1389.4 1907.8C1394.8 1908.8 1401.5 1909.8 1407.0 1911.7C1412.6 1913.7 1418.8 1916.3 1422.7 1919.6C1426.6 1922.8 1430.2 1927.4 1430.5 1931.3C1430.8 1935.2 1428.2 1939.9 1424.6 1943.0C1421.0 1946.1 1414.8 1948.9 1409.0 1949.9C1403.1 1950.8 1396.0 1950.3 1389.4 1948.9C1382.9 1947.4 1375.1 1945.0 1369.9 1941.1C1364.7 1937.2 1360.8 1931.0 1358.2 1925.4C1355.6 1919.9 1354.3 1913.4 1354.3 1907.8C1354.3 1902.3 1356.2 1896.8 1358.2 1892.2C1360.1 1887.6 1363.8 1884.0 1366.0 1880.5C1368.2 1877.0 1371.5 1874.0 1371.5 1871.1C1371.5 1868.2 1367.4 1866.2 1366.0 1862.9C1364.6 1859.6 1363.4 1855.1 1363.1 1851.2C1362.7 1847.3 1362.6 1845.0 1364.0 1839.4Z"/></clipPath></defs>
<path d="M1403.1 1748.6C1405.7 1748.6 1407.0 1749.7 1409.0 1751.5C1410.9 1753.3 1410.9 1757.8 1414.8 1759.3C1418.8 1760.8 1427.2 1760.3 1432.4 1760.3C1437.6 1760.3 1441.6 1759.8 1446.1 1759.3C1450.7 1758.8 1456.5 1758.0 1459.8 1757.4C1463.0 1756.7 1463.9 1755.1 1465.7 1755.4C1467.4 1755.7 1468.6 1757.5 1470.5 1759.3C1472.5 1761.1 1475.3 1765.2 1477.4 1766.2C1479.5 1767.1 1481.9 1764.0 1483.2 1765.2C1484.5 1766.3 1482.9 1770.1 1485.2 1773.0C1487.5 1775.9 1492.7 1779.2 1496.9 1782.8C1501.2 1786.3 1506.0 1790.6 1510.6 1794.5C1515.2 1798.4 1520.4 1803.6 1524.3 1806.2C1528.2 1808.8 1532.8 1807.8 1534.1 1810.1C1535.4 1812.4 1531.8 1816.3 1532.1 1819.9C1532.4 1823.5 1534.4 1827.1 1536.0 1831.6C1537.6 1836.2 1540.6 1842.0 1541.9 1847.3C1543.2 1852.5 1542.8 1858.3 1543.8 1862.9C1544.8 1867.5 1545.8 1871.7 1547.7 1874.6C1549.7 1877.5 1554.6 1877.5 1555.6 1880.5C1556.5 1883.4 1554.9 1889.3 1553.6 1892.2C1552.3 1895.1 1549.4 1894.5 1547.7 1898.1C1546.1 1901.7 1545.5 1909.1 1543.8 1913.7C1542.2 1918.3 1538.3 1921.5 1538.0 1925.4C1537.6 1929.3 1542.5 1933.9 1541.9 1937.2C1541.2 1940.4 1537.3 1943.3 1534.1 1945.0C1530.8 1946.6 1525.6 1944.3 1522.3 1946.9C1519.1 1949.5 1517.1 1956.4 1514.5 1960.6C1511.9 1964.8 1510.6 1969.7 1506.7 1972.3C1502.8 1974.9 1496.3 1974.0 1491.1 1976.2C1485.8 1978.5 1481.3 1983.4 1475.4 1986.0C1469.6 1988.6 1462.4 1990.6 1455.9 1991.9C1449.4 1993.2 1442.9 1993.8 1436.3 1993.8C1429.8 1993.8 1422.3 1991.9 1416.8 1991.9C1411.3 1991.9 1407.7 1992.8 1403.1 1993.8C1398.6 1994.8 1392.7 1997.1 1389.4 1997.7C1386.2 1998.4 1385.9 1999.4 1383.6 1997.7C1381.3 1996.1 1379.0 1990.9 1375.8 1988.0C1372.5 1985.0 1367.9 1982.4 1364.0 1980.1C1360.1 1977.9 1354.9 1976.2 1352.3 1974.3C1349.7 1972.3 1348.1 1971.0 1348.4 1968.4C1348.7 1965.8 1355.2 1960.0 1354.3 1958.6C1353.3 1957.3 1346.4 1961.9 1342.5 1960.6C1338.6 1959.3 1333.1 1953.8 1330.8 1950.8C1328.5 1947.9 1330.8 1947.2 1328.9 1943.0C1326.9 1938.8 1322.0 1930.0 1319.1 1925.4C1316.2 1920.9 1313.7 1918.3 1311.3 1915.7C1308.8 1913.0 1304.8 1912.4 1304.4 1909.8C1304.1 1907.2 1308.2 1903.9 1309.3 1900.0C1310.5 1896.1 1311.9 1890.9 1311.3 1886.3C1310.6 1881.8 1306.1 1876.6 1305.4 1872.7C1304.8 1868.8 1306.4 1865.8 1307.4 1862.9C1308.3 1860.0 1311.8 1858.0 1311.3 1855.1C1310.8 1852.1 1304.8 1848.6 1304.4 1845.3C1304.1 1842.0 1306.9 1839.4 1309.3 1835.5C1311.8 1831.6 1315.5 1826.4 1319.1 1821.9C1322.7 1817.3 1326.6 1812.7 1330.8 1808.2C1335.0 1803.6 1341.6 1799.4 1344.5 1794.5C1347.4 1789.6 1346.1 1781.8 1348.4 1778.9C1350.7 1775.9 1354.3 1778.9 1358.2 1776.9C1362.1 1774.9 1367.6 1770.1 1371.9 1767.1C1376.1 1764.2 1380.0 1761.9 1383.6 1759.3C1387.2 1756.7 1390.1 1753.3 1393.3 1751.5C1396.6 1749.7 1400.5 1748.6 1403.1 1748.6Z" fill="url(#gNeu)" stroke="#c9507f" stroke-width="2.2" stroke-linejoin="round"/>
<g clip-path="url(#cpNeu)" filter="url(#fBlN)">
<path d="M1315.2 1866.8C1317.8 1862.9 1323.0 1860.9 1326.9 1862.9C1330.8 1864.8 1337.3 1871.4 1338.6 1878.5C1339.9 1885.7 1337.3 1898.7 1334.7 1905.9C1332.1 1913.0 1326.6 1921.5 1323.0 1921.5C1319.4 1921.5 1315.2 1911.7 1313.2 1905.9C1311.3 1900.0 1310.9 1892.9 1311.3 1886.3C1311.6 1879.8 1312.6 1870.7 1315.2 1866.8Z" fill="#eea5c6" opacity="0.75"/>
<path d="M1475.4 1902.0C1479.3 1895.5 1488.5 1888.3 1495.0 1886.3C1501.5 1884.4 1509.3 1887.0 1514.5 1890.3C1519.7 1893.5 1526.9 1901.3 1526.2 1905.9C1525.6 1910.4 1516.5 1914.4 1510.6 1917.6C1504.7 1920.9 1497.6 1924.1 1491.1 1925.4C1484.5 1926.7 1474.1 1929.3 1471.5 1925.4C1468.9 1921.5 1471.5 1908.5 1475.4 1902.0Z" fill="#eea5c6" opacity="0.75"/>
<path d="M1440.3 1929.3C1444.2 1926.1 1458.5 1924.8 1467.6 1925.4C1476.7 1926.1 1487.8 1929.3 1495.0 1933.2C1502.1 1937.2 1511.3 1945.0 1510.6 1948.9C1510.0 1952.8 1498.9 1956.7 1491.1 1956.7C1483.2 1956.7 1471.5 1950.8 1463.7 1948.9C1455.9 1946.9 1448.1 1948.2 1444.2 1945.0C1440.3 1941.7 1436.3 1932.6 1440.3 1929.3Z" fill="#eea5c6" opacity="0.75"/>
<path d="M1362.1 1960.6C1366.0 1959.6 1380.3 1967.8 1389.4 1970.4C1398.6 1973.0 1407.0 1974.3 1416.8 1976.2C1426.6 1978.2 1448.1 1980.1 1448.1 1982.1C1448.1 1984.1 1427.2 1986.7 1416.8 1988.0C1406.4 1989.3 1394.0 1991.9 1385.5 1989.9C1377.1 1988.0 1369.9 1981.1 1366.0 1976.2C1362.1 1971.4 1358.2 1961.6 1362.1 1960.6Z" fill="#eea5c6" opacity="0.75"/>
<path d="M1475.4 1776.9C1478.7 1776.9 1489.1 1784.1 1495.0 1788.6C1500.8 1793.2 1506.0 1799.1 1510.6 1804.3C1515.2 1809.5 1522.3 1817.9 1522.3 1819.9C1522.3 1821.9 1515.8 1819.2 1510.6 1816.0C1505.4 1812.7 1496.9 1804.9 1491.1 1800.4C1485.2 1795.8 1478.0 1792.5 1475.4 1788.6C1472.8 1784.7 1472.2 1776.9 1475.4 1776.9Z" fill="#eea5c6" opacity="0.75"/>
<path d="M1526.2 1847.3C1527.9 1843.3 1535.4 1849.9 1538.0 1855.1C1540.6 1860.3 1542.5 1871.4 1541.9 1878.5C1541.2 1885.7 1536.3 1898.1 1534.1 1898.1C1531.8 1898.1 1529.5 1887.0 1528.2 1878.5C1526.9 1870.1 1524.6 1851.2 1526.2 1847.3Z" fill="#eea5c6" opacity="0.75"/>
<path d="M1338.6 1804.3C1340.6 1800.0 1349.7 1794.2 1354.3 1792.5C1358.8 1790.9 1366.0 1791.9 1366.0 1794.5C1366.0 1797.1 1358.2 1804.3 1354.3 1808.2C1350.4 1812.1 1345.1 1818.6 1342.5 1817.9C1339.9 1817.3 1336.7 1808.5 1338.6 1804.3Z" fill="#eea5c6" opacity="0.75"/>
</g>
<path d="M1366.0 1788.6C1367.3 1786.7 1376.4 1782.4 1381.6 1780.8C1386.8 1779.2 1396.0 1777.9 1397.3 1778.9C1398.6 1779.8 1393.3 1784.4 1389.4 1786.7C1385.5 1789.0 1377.7 1792.2 1373.8 1792.5C1369.9 1792.9 1364.7 1790.6 1366.0 1788.6Z" fill="#f9dde8" opacity="0.75"/>
<path d="M1315.2 1839.4C1316.5 1835.2 1325.9 1831.6 1330.8 1831.6C1335.7 1831.6 1343.2 1835.5 1344.5 1839.4C1345.8 1843.3 1342.2 1852.1 1338.6 1855.1C1335.0 1858.0 1326.9 1859.6 1323.0 1857.0C1319.1 1854.4 1313.9 1843.7 1315.2 1839.4Z" fill="#f9dde8" opacity="0.75"/>
<path d="M1338.6 1866.8C1339.9 1864.8 1351.0 1867.5 1354.3 1870.7C1357.5 1874.0 1359.5 1884.4 1358.2 1886.3C1356.9 1888.3 1349.7 1885.7 1346.4 1882.4C1343.2 1879.2 1337.3 1868.8 1338.6 1866.8Z" fill="#f9dde8" opacity="0.75"/>
<path d="M1455.9 1925.4C1457.2 1922.2 1469.6 1917.0 1475.4 1913.7C1481.3 1910.4 1489.1 1904.6 1491.1 1905.9C1493.0 1907.2 1491.1 1917.0 1487.2 1921.5C1483.2 1926.1 1472.8 1932.6 1467.6 1933.2C1462.4 1933.9 1454.6 1928.7 1455.9 1925.4Z" fill="#f9dde8" opacity="0.75"/>
<path d="M1444.2 1960.6C1446.1 1958.3 1457.2 1954.7 1463.7 1954.7C1470.2 1954.7 1482.6 1958.0 1483.2 1960.6C1483.9 1963.2 1472.8 1969.1 1467.6 1970.4C1462.4 1971.7 1455.9 1970.0 1452.0 1968.4C1448.1 1966.8 1442.2 1962.9 1444.2 1960.6Z" fill="#f9dde8" opacity="0.75"/>
<path d="M1475.4 1882.4C1478.4 1878.5 1489.1 1873.0 1491.1 1874.6C1493.0 1876.2 1490.1 1888.3 1487.2 1892.2C1484.2 1896.1 1475.4 1899.7 1473.5 1898.1C1471.5 1896.4 1472.5 1886.3 1475.4 1882.4Z" fill="#f9dde8" opacity="0.75"/>
<path d="M1416.8 1773.0C1416.8 1771.0 1430.5 1768.4 1436.3 1769.1C1442.2 1769.7 1452.0 1774.9 1452.0 1776.9C1452.0 1778.9 1442.2 1781.5 1436.3 1780.8C1430.5 1780.2 1416.8 1774.9 1416.8 1773.0Z" fill="#f9dde8" opacity="0.75"/>
<circle cx="1407.0" cy="1780.8" r="5.5" fill="#cf7aa6"/>
<circle cx="1448.1" cy="1798.8" r="3.5" fill="#cf7aa6"/>
<circle cx="1459.8" cy="1816.0" r="5.9" fill="#cf7aa6"/>
<circle cx="1447.1" cy="1820.9" r="2.7" fill="#cf7aa6"/>
<circle cx="1502.8" cy="1809.7" r="4.3" fill="#cf7aa6"/>
<circle cx="1353.9" cy="1831.6" r="4.9" fill="#cf7aa6"/>
<circle cx="1464.7" cy="1855.1" r="5.9" fill="#cf7aa6"/>
<circle cx="1354.7" cy="1862.9" r="2.7" fill="#cf7aa6"/>
<circle cx="1460.8" cy="1888.7" r="5.9" fill="#cf7aa6"/>
<circle cx="1433.8" cy="1891.2" r="2.7" fill="#cf7aa6"/>
<circle cx="1502.8" cy="1897.7" r="5.5" fill="#cf7aa6"/>
<circle cx="1333.2" cy="1896.1" r="4.9" fill="#cf7aa6"/>
<circle cx="1344.5" cy="1900.0" r="2.3" fill="#cf7aa6"/>
<circle cx="1445.1" cy="1913.7" r="5.5" fill="#cf7aa6"/>
<circle cx="1462.7" cy="1938.1" r="3.5" fill="#cf7aa6"/>
<circle cx="1490.1" cy="1954.4" r="5.9" fill="#cf7aa6"/>
<circle cx="1383.2" cy="1962.9" r="5.5" fill="#cf7aa6"/>
<circle cx="1404.1" cy="1792.5" r="2.0" fill="#cf7aa6"/>
<circle cx="1471.5" cy="1798.4" r="1.6" fill="#cf7aa6"/>
<circle cx="1400.8" cy="1892.6" r="2.0" fill="#cf7aa6"/>
<circle cx="1430.5" cy="1977.2" r="1.6" fill="#cf7aa6"/>
<path d="M1364.0 1839.4C1365.5 1833.9 1367.6 1823.3 1371.9 1817.9C1376.1 1812.6 1382.6 1809.1 1389.4 1807.2C1396.3 1805.2 1406.1 1804.4 1412.9 1806.2C1419.7 1808.0 1426.4 1813.7 1430.5 1817.9C1434.6 1822.2 1433.7 1829.0 1437.3 1831.6C1440.9 1834.3 1446.9 1834.6 1452.0 1834.0C1457.0 1833.3 1462.4 1829.4 1467.6 1827.7C1472.8 1826.0 1477.7 1824.5 1483.2 1823.8C1488.8 1823.2 1495.6 1822.5 1500.8 1823.8C1506.0 1825.1 1510.8 1827.7 1514.5 1831.6C1518.3 1835.5 1521.5 1841.4 1523.3 1847.3C1525.1 1853.1 1526.1 1860.9 1525.3 1866.8C1524.4 1872.7 1521.8 1878.8 1518.4 1882.4C1515.0 1886.1 1509.0 1888.7 1504.7 1888.7C1500.5 1888.7 1496.3 1886.1 1493.0 1882.4C1489.8 1878.8 1487.5 1872.0 1485.2 1866.8C1482.9 1861.6 1482.3 1855.0 1479.3 1851.2C1476.4 1847.3 1472.2 1844.7 1467.6 1843.7C1463.0 1842.8 1456.7 1844.7 1452.0 1845.7C1447.3 1846.7 1441.9 1846.7 1439.3 1849.6C1436.7 1852.5 1438.5 1858.4 1436.3 1862.9C1434.2 1867.4 1430.8 1873.0 1426.6 1876.6C1422.3 1880.2 1416.5 1883.4 1410.9 1884.4C1405.4 1885.4 1398.1 1883.6 1393.3 1882.4C1388.6 1881.3 1385.5 1876.9 1382.6 1877.5C1379.7 1878.2 1377.9 1882.9 1376.2 1886.3C1374.4 1889.8 1372.5 1894.8 1372.2 1898.1C1372.0 1901.3 1371.9 1904.3 1374.8 1905.9C1377.6 1907.5 1384.1 1906.9 1389.4 1907.8C1394.8 1908.8 1401.5 1909.8 1407.0 1911.7C1412.6 1913.7 1418.8 1916.3 1422.7 1919.6C1426.6 1922.8 1430.2 1927.4 1430.5 1931.3C1430.8 1935.2 1428.2 1939.9 1424.6 1943.0C1421.0 1946.1 1414.8 1948.9 1409.0 1949.9C1403.1 1950.8 1396.0 1950.3 1389.4 1948.9C1382.9 1947.4 1375.1 1945.0 1369.9 1941.1C1364.7 1937.2 1360.8 1931.0 1358.2 1925.4C1355.6 1919.9 1354.3 1913.4 1354.3 1907.8C1354.3 1902.3 1356.2 1896.8 1358.2 1892.2C1360.1 1887.6 1363.8 1884.0 1366.0 1880.5C1368.2 1877.0 1371.5 1874.0 1371.5 1871.1C1371.5 1868.2 1367.4 1866.2 1366.0 1862.9C1364.6 1859.6 1363.4 1855.1 1363.1 1851.2C1362.7 1847.3 1362.6 1845.0 1364.0 1839.4Z" fill="#d796bb"/>
<g clip-path="url(#cpNuc)" fill="#c983ab">
<path d="M1389.4 1855.1C1393.7 1850.5 1401.8 1851.2 1407.0 1847.3C1412.2 1843.3 1417.1 1836.2 1420.7 1831.6C1424.3 1827.1 1425.9 1819.9 1428.5 1819.9C1431.1 1819.9 1435.0 1824.5 1436.3 1831.6C1437.6 1838.8 1438.0 1855.4 1436.3 1862.9C1434.7 1870.4 1430.8 1873.0 1426.6 1876.6C1422.3 1880.2 1416.5 1883.4 1410.9 1884.4C1405.4 1885.4 1398.2 1884.1 1393.3 1882.4C1388.5 1880.8 1382.3 1879.2 1381.6 1874.6C1381.0 1870.1 1385.2 1859.6 1389.4 1855.1Z"/>
<path d="M1495.0 1839.4C1499.2 1838.8 1503.4 1843.3 1506.7 1847.3C1510.0 1851.2 1513.2 1857.7 1514.5 1862.9C1515.8 1868.1 1516.1 1874.2 1514.5 1878.5C1512.9 1882.8 1508.3 1888.0 1504.7 1888.7C1501.2 1889.3 1496.3 1886.1 1493.0 1882.4C1489.8 1878.8 1487.2 1872.0 1485.2 1866.8C1483.2 1861.6 1479.7 1855.7 1481.3 1851.2C1482.9 1846.6 1490.7 1840.1 1495.0 1839.4Z"/>
<path d="M1397.3 1921.5C1401.2 1919.6 1408.3 1923.5 1412.9 1925.4C1417.5 1927.4 1422.7 1930.3 1424.6 1933.2C1426.6 1936.2 1427.2 1940.2 1424.6 1943.0C1422.0 1945.8 1414.8 1948.9 1409.0 1949.9C1403.1 1950.8 1395.3 1950.2 1389.4 1948.9C1383.6 1947.6 1373.8 1944.0 1373.8 1942.0C1373.8 1940.1 1385.5 1940.6 1389.4 1937.2C1393.3 1933.7 1393.3 1923.5 1397.3 1921.5Z"/>
</g>
<path d="M1377.7 1821.9C1379.0 1819.9 1384.9 1816.6 1389.4 1816.0C1394.0 1815.3 1403.8 1816.6 1405.1 1817.9C1406.4 1819.2 1401.2 1822.2 1397.3 1823.8C1393.3 1825.4 1384.9 1828.0 1381.6 1827.7C1378.4 1827.4 1376.4 1823.8 1377.7 1821.9Z" fill="#efcfe0" opacity="0.8"/>
<path d="M1395.3 1847.3C1396.0 1845.6 1402.6 1840.6 1405.1 1839.4C1407.5 1838.3 1410.6 1838.8 1410.0 1840.4C1409.3 1842.0 1403.6 1848.1 1401.2 1849.2C1398.7 1850.4 1394.7 1848.9 1395.3 1847.3Z" fill="#efcfe0" opacity="0.8"/>
<path d="M1367.9 1851.2C1368.3 1849.5 1372.2 1847.3 1373.8 1847.3C1375.4 1847.3 1378.0 1849.5 1377.7 1851.2C1377.4 1852.8 1373.5 1857.0 1371.9 1857.0C1370.2 1857.0 1367.6 1852.8 1367.9 1851.2Z" fill="#efcfe0" opacity="0.8"/>
</g>
<g id="macro">
<defs><clipPath id="cpMac"><path id="pMac" d="M1690.8 1775.2C1693.9 1775.4 1699.6 1780.0 1704.6 1780.9C1709.5 1781.9 1715.3 1780.4 1720.6 1780.9C1726.0 1781.5 1730.9 1783.6 1736.7 1784.4C1742.4 1785.1 1748.9 1785.7 1755.0 1785.5C1761.1 1785.3 1766.4 1783.4 1773.3 1783.2C1780.2 1783.0 1789.4 1783.2 1796.2 1784.4C1803.1 1785.5 1808.8 1788.4 1814.6 1790.1C1820.3 1791.8 1824.9 1793.2 1830.6 1794.7C1836.3 1796.2 1843.2 1798.5 1848.9 1799.3C1854.7 1800.0 1860.0 1799.6 1865.0 1799.3C1869.9 1798.9 1875.5 1796.6 1878.7 1797.0C1882.0 1797.4 1883.7 1798.3 1884.5 1801.6C1885.2 1804.8 1883.1 1810.9 1883.3 1816.5C1883.5 1822.0 1883.7 1829.1 1885.6 1834.8C1887.5 1840.5 1892.5 1845.1 1894.8 1850.8C1897.1 1856.6 1897.8 1863.0 1899.3 1869.2C1900.9 1875.3 1902.0 1881.8 1903.9 1887.5C1905.8 1893.2 1909.3 1898.2 1910.8 1903.5C1912.3 1908.9 1913.1 1914.6 1913.1 1919.6C1913.1 1924.5 1910.4 1928.4 1910.8 1933.3C1911.2 1938.3 1912.9 1944.0 1915.4 1949.4C1917.9 1954.7 1924.9 1961.2 1925.7 1965.4C1926.5 1969.6 1923.2 1972.7 1920.0 1974.6C1916.7 1976.5 1910.0 1975.3 1906.2 1976.9C1902.4 1978.4 1899.3 1980.3 1897.1 1983.7C1894.8 1987.2 1894.8 1992.5 1892.5 1997.5C1890.2 2002.4 1886.7 2008.9 1883.3 2013.5C1879.9 2018.1 1875.3 2021.2 1871.9 2025.0C1868.4 2028.8 1866.5 2033.8 1862.7 2036.4C1858.9 2039.1 1853.9 2039.9 1848.9 2041.0C1844.0 2042.2 1837.9 2041.8 1832.9 2043.3C1827.9 2044.8 1824.5 2048.1 1819.1 2050.2C1813.8 2052.3 1807.3 2054.6 1800.8 2055.9C1794.3 2057.2 1786.7 2058.0 1780.2 2058.2C1773.7 2058.4 1767.2 2058.0 1761.9 2057.1C1756.5 2056.1 1753.1 2052.1 1748.1 2052.5C1743.1 2052.9 1737.4 2056.7 1732.1 2059.3C1726.7 2062.0 1721.0 2065.8 1716.0 2068.5C1711.1 2071.2 1705.9 2075.0 1702.3 2075.4C1698.7 2075.8 1696.0 2073.9 1694.3 2070.8C1692.5 2067.8 1692.5 2062.0 1692.0 2057.1C1691.4 2052.1 1692.5 2045.6 1690.8 2041.0C1689.1 2036.4 1684.7 2033.8 1681.7 2029.6C1678.6 2025.4 1675.5 2020.0 1672.5 2015.8C1669.4 2011.6 1666.8 2007.4 1663.3 2004.4C1659.9 2001.3 1654.9 2000.2 1651.9 1997.5C1648.8 1994.8 1648.4 1991.4 1645.0 1988.3C1641.6 1985.3 1636.2 1981.2 1631.2 1979.1C1626.3 1977.0 1618.8 1977.4 1615.2 1975.7C1611.6 1974.0 1609.1 1971.7 1609.5 1968.8C1609.9 1966.0 1614.6 1962.2 1617.5 1958.5C1620.4 1954.9 1624.6 1951.6 1626.7 1947.1C1628.8 1942.5 1629.7 1937.1 1630.1 1931.0C1630.5 1924.9 1629.5 1916.9 1629.0 1910.4C1628.4 1903.9 1626.3 1897.4 1626.7 1892.1C1627.0 1886.7 1629.0 1882.9 1631.2 1878.3C1633.5 1873.7 1637.7 1868.8 1640.4 1864.6C1643.1 1860.4 1646.0 1856.9 1647.3 1853.1C1648.6 1849.3 1646.9 1844.7 1648.4 1841.7C1650.0 1838.6 1653.6 1837.1 1656.5 1834.8C1659.3 1832.5 1662.9 1831.3 1665.6 1827.9C1668.3 1824.5 1670.2 1819.5 1672.5 1814.2C1674.8 1808.8 1677.1 1801.6 1679.4 1795.8C1681.7 1790.1 1684.3 1783.2 1686.2 1779.8C1688.2 1776.4 1687.8 1775.0 1690.8 1775.2Z"/></clipPath><filter id="fBlM" x="-10%" y="-10%" width="120%" height="120%"><feGaussianBlur stdDeviation="3"/></filter></defs>
<use href="#pMac" fill="#c4c3ea" stroke="#7a699e" stroke-width="2.2" stroke-linejoin="round"/>
<g clip-path="url(#cpMac)">
<path d="M1704.6 1789.0C1709.5 1786.7 1720.6 1789.7 1727.5 1791.2C1734.4 1792.8 1745.8 1796.2 1745.8 1798.1C1745.8 1800.0 1733.6 1800.8 1727.5 1802.7C1721.4 1804.6 1713.4 1806.9 1709.2 1809.6C1705.0 1812.3 1704.2 1819.5 1702.3 1818.7C1700.4 1818.0 1697.3 1810.0 1697.7 1805.0C1698.1 1800.0 1699.6 1791.2 1704.6 1789.0Z" fill="#b9b7e6"/>
<path d="M1819.1 1805.0C1822.2 1802.7 1835.2 1806.1 1842.1 1809.6C1848.9 1813.0 1855.4 1819.5 1860.4 1825.6C1865.4 1831.7 1871.9 1840.9 1871.9 1846.2C1871.9 1851.6 1865.4 1858.5 1860.4 1857.7C1855.4 1856.9 1848.2 1847.4 1842.1 1841.7C1836.0 1835.9 1827.5 1829.4 1823.7 1823.3C1819.9 1817.2 1816.1 1807.3 1819.1 1805.0Z" fill="#b9b7e6"/>
<path d="M1865.0 1869.2C1868.8 1866.1 1881.8 1868.4 1887.9 1873.7C1894.0 1879.1 1900.5 1892.8 1901.6 1901.2C1902.8 1909.6 1898.6 1922.6 1894.8 1924.2C1890.9 1925.7 1883.7 1915.8 1878.7 1910.4C1873.8 1905.1 1867.3 1898.9 1865.0 1892.1C1862.7 1885.2 1861.2 1872.2 1865.0 1869.2Z" fill="#b9b7e6"/>
<path d="M1860.4 1937.9C1863.4 1931.8 1877.2 1930.3 1883.3 1933.3C1889.4 1936.4 1897.1 1948.6 1897.1 1956.2C1897.1 1963.9 1888.7 1976.9 1883.3 1979.1C1878.0 1981.4 1868.8 1976.9 1865.0 1970.0C1861.2 1963.1 1857.3 1944.0 1860.4 1937.9Z" fill="#b9b7e6"/>
<path d="M1842.1 2002.1C1848.2 1996.7 1860.4 1994.4 1865.0 1997.5C1869.6 2000.5 1872.6 2014.3 1869.6 2020.4C1866.5 2026.5 1853.5 2032.6 1846.6 2034.1C1839.8 2035.7 1829.1 2034.9 1828.3 2029.6C1827.5 2024.2 1836.0 2007.4 1842.1 2002.1Z" fill="#b9b7e6"/>
<path d="M1727.5 2034.1C1729.8 2031.9 1752.7 2037.2 1764.2 2038.7C1775.6 2040.3 1793.2 2040.6 1796.2 2043.3C1799.3 2046.0 1790.1 2053.2 1782.5 2054.8C1774.8 2056.3 1759.6 2055.9 1750.4 2052.5C1741.2 2049.0 1725.2 2036.4 1727.5 2034.1Z" fill="#b9b7e6"/>
<path d="M1665.6 1979.1C1669.1 1979.1 1679.0 1995.2 1686.2 2002.1C1693.5 2008.9 1703.8 2013.5 1709.2 2020.4C1714.5 2027.3 1720.2 2038.7 1718.3 2043.3C1716.4 2047.9 1703.8 2050.9 1697.7 2047.9C1691.6 2044.8 1687.0 2032.6 1681.7 2025.0C1676.3 2017.3 1668.3 2009.7 1665.6 2002.1C1662.9 1994.4 1662.2 1979.1 1665.6 1979.1Z" fill="#b9b7e6"/>
<path d="M1635.8 1878.3C1639.8 1876.0 1653.4 1879.9 1656.5 1887.5C1659.5 1895.1 1656.8 1912.7 1654.2 1924.2C1651.5 1935.6 1644.2 1954.7 1640.4 1956.2C1636.6 1957.8 1632.6 1942.5 1631.2 1933.3C1629.9 1924.2 1631.6 1910.4 1632.4 1901.2C1633.2 1892.1 1631.8 1880.6 1635.8 1878.3Z" fill="#b9b7e6"/>
<path d="M1656.5 1841.7C1660.3 1836.3 1678.2 1834.4 1681.7 1837.1C1685.1 1839.7 1680.9 1852.4 1677.1 1857.7C1673.3 1863.0 1662.2 1871.8 1658.7 1869.2C1655.3 1866.5 1652.6 1847.0 1656.5 1841.7Z" fill="#b9b7e6"/>
<use href="#pMac" fill="none" stroke="#b9b7e6" stroke-width="16" opacity="0.9"/>
<path d="M1704.6 1825.6C1713.0 1819.5 1722.1 1814.9 1732.1 1811.9C1742.0 1808.8 1753.5 1807.3 1764.2 1807.3C1774.8 1807.3 1786.7 1808.8 1796.2 1811.9C1805.8 1814.9 1813.8 1819.9 1821.4 1825.6C1829.1 1831.3 1836.0 1838.2 1842.1 1846.2C1848.2 1854.3 1854.3 1863.8 1858.1 1873.7C1861.9 1883.7 1864.2 1895.1 1865.0 1905.8C1865.7 1916.5 1864.6 1927.2 1862.7 1937.9C1860.8 1948.6 1858.1 1960.1 1853.5 1970.0C1848.9 1979.9 1842.4 1989.5 1835.2 1997.5C1827.9 2005.5 1819.5 2012.8 1810.0 2018.1C1800.4 2023.4 1788.6 2027.8 1777.9 2029.6C1767.2 2031.3 1756.1 2030.3 1745.8 2028.4C1735.5 2026.5 1725.2 2022.9 1716.0 2018.1C1706.9 2013.3 1698.1 2007.0 1690.8 1999.8C1683.6 1992.5 1677.5 1983.7 1672.5 1974.6C1667.5 1965.4 1663.3 1955.5 1661.0 1944.8C1658.7 1934.1 1658.0 1921.5 1658.7 1910.4C1659.5 1899.3 1661.8 1888.6 1665.6 1878.3C1669.4 1868.0 1675.2 1857.3 1681.7 1848.5C1688.2 1839.7 1696.2 1831.7 1704.6 1825.6Z" fill="#dadaf3" opacity="0.95" filter="url(#fBlM)"/>
</g>
<use href="#pMac" fill="none" stroke="#7a699e" stroke-width="2" stroke-linejoin="round"/>
<circle cx="1768.7" cy="1808.4" r="5.7" fill="#cfcfee" stroke="#a9a6d8" stroke-width="2.6"/>
<circle cx="1834.0" cy="1846.2" r="6.9" fill="#cfcfee" stroke="#a9a6d8" stroke-width="2.6"/>
<circle cx="1689.7" cy="1856.6" r="6.9" fill="#cfcfee" stroke="#a9a6d8" stroke-width="2.6"/>
<circle cx="1850.1" cy="1911.5" r="6.2" fill="#cfcfee" stroke="#a9a6d8" stroke-width="2.6"/>
<circle cx="1650.0" cy="1947.5" r="8.0" fill="#cfcfee" stroke="#a9a6d8" stroke-width="2.6"/>
<circle cx="1876.4" cy="1952.8" r="5.7" fill="#cfcfee" stroke="#a9a6d8" stroke-width="2.6"/>
<circle cx="1843.2" cy="1988.3" r="6.2" fill="#cfcfee" stroke="#a9a6d8" stroke-width="2.6"/>
<circle cx="1758.4" cy="2022.7" r="5.7" fill="#cfcfee" stroke="#a9a6d8" stroke-width="2.6"/>
<circle cx="1708.0" cy="2029.1" r="4.6" fill="#cfcfee" stroke="#a9a6d8" stroke-width="2.6"/>
<circle cx="1720.6" cy="1825.2" r="2.6" fill="#6f6796"/>
<circle cx="1823.0" cy="1811.9" r="2.6" fill="#6f6796"/>
<circle cx="1657.6" cy="1868.0" r="2.6" fill="#6f6796"/>
<circle cx="1876.4" cy="1878.3" r="2.6" fill="#6f6796"/>
<circle cx="1843.2" cy="1941.3" r="2.6" fill="#6f6796"/>
<circle cx="1687.4" cy="1993.4" r="2.6" fill="#6f6796"/>
<circle cx="1727.0" cy="2012.4" r="2.6" fill="#6f6796"/>
<circle cx="1842.1" cy="2013.1" r="2.6" fill="#6f6796"/>
<circle cx="1778.4" cy="2037.6" r="2.6" fill="#6f6796"/>
<path d="M1773.3 1841.7C1780.6 1841.3 1788.6 1840.9 1796.2 1842.8C1803.9 1844.7 1813.2 1848.3 1819.1 1853.1C1825.1 1857.9 1829.3 1865.0 1831.8 1871.4C1834.2 1877.9 1834.2 1884.8 1834.0 1892.1C1833.9 1899.3 1832.3 1907.3 1830.6 1915.0C1828.9 1922.6 1825.6 1931.8 1823.7 1937.9C1821.9 1944.0 1819.5 1947.1 1819.6 1951.6C1819.7 1956.2 1824.6 1961.1 1824.2 1965.4C1823.7 1969.7 1820.4 1975.3 1816.9 1977.3C1813.3 1979.3 1806.5 1975.9 1803.1 1977.3C1799.7 1978.8 1800.1 1983.0 1796.2 1986.0C1792.4 1989.0 1786.3 1992.7 1780.2 1995.2C1774.1 1997.7 1766.8 2000.3 1759.6 2000.9C1752.3 2001.5 1744.3 2000.7 1736.7 1998.6C1729.0 1996.5 1720.6 1993.1 1713.7 1988.3C1706.9 1983.5 1700.4 1976.9 1695.4 1970.0C1690.4 1963.1 1686.2 1954.7 1684.0 1947.1C1681.7 1939.4 1681.3 1931.8 1681.7 1924.2C1682.0 1916.5 1683.6 1908.5 1686.2 1901.2C1688.9 1894.0 1693.1 1886.7 1697.7 1880.6C1702.3 1874.5 1708.0 1869.2 1713.7 1864.6C1719.5 1860.0 1725.6 1856.4 1732.1 1853.1C1738.6 1849.9 1745.8 1847.0 1752.7 1845.1C1759.6 1843.2 1766.1 1842.0 1773.3 1841.7Z" fill="#a49cc6" stroke="#9a92bf" stroke-width="1.4"/>
<circle cx="1811.1" cy="1965.4" r="11.9" fill="#aca5cd"/>
<path d="M1768.7 1846.2C1777.1 1845.1 1784.8 1844.7 1791.6 1846.2C1798.5 1847.8 1805.8 1850.8 1810.0 1855.4C1814.2 1860.0 1816.9 1867.6 1816.9 1873.7C1816.9 1879.9 1813.4 1886.3 1810.0 1892.1C1806.5 1897.8 1799.3 1902.0 1796.2 1908.1C1793.2 1914.2 1794.3 1921.9 1791.6 1928.7C1789.0 1935.6 1785.5 1943.6 1780.2 1949.4C1774.8 1955.1 1767.6 1959.7 1759.6 1963.1C1751.5 1966.5 1740.5 1969.2 1732.1 1970.0C1723.7 1970.7 1715.6 1970.7 1709.2 1967.7C1702.7 1964.6 1696.9 1958.1 1693.1 1951.6C1689.3 1945.2 1687.0 1936.4 1686.2 1928.7C1685.5 1921.1 1686.2 1913.1 1688.5 1905.8C1690.8 1898.6 1695.0 1891.7 1700.0 1885.2C1705.0 1878.7 1711.4 1872.2 1718.3 1866.9C1725.2 1861.5 1732.8 1856.6 1741.2 1853.1C1749.6 1849.7 1760.3 1847.4 1768.7 1846.2Z" fill="#b2add5" opacity="0.9"/>
<path d="M1736.7 1878.3C1738.2 1873.7 1745.6 1869.9 1748.1 1869.2C1750.6 1868.4 1751.5 1869.2 1751.5 1873.7C1751.5 1878.3 1750.2 1892.8 1748.1 1896.7C1746.0 1900.5 1740.9 1899.7 1738.9 1896.7C1737.0 1893.6 1735.1 1882.9 1736.7 1878.3Z" fill="#d3d2ec" opacity="0.85"/>
<path d="M1695.4 1915.0C1696.2 1911.9 1702.3 1902.8 1704.6 1901.2C1706.9 1899.7 1709.9 1902.8 1709.2 1905.8C1708.4 1908.9 1702.3 1918.0 1700.0 1919.6C1697.7 1921.1 1694.6 1918.0 1695.4 1915.0Z" fill="#d3d2ec" opacity="0.85"/>
<path d="M1711.4 1898.9C1712.2 1897.6 1716.8 1895.3 1718.3 1895.5C1719.9 1895.7 1721.4 1898.8 1720.6 1900.1C1719.9 1901.4 1715.3 1903.7 1713.7 1903.5C1712.2 1903.3 1710.7 1900.3 1711.4 1898.9Z" fill="#d3d2ec" opacity="0.85"/>
<path d="M1745.8 1860.0C1746.2 1858.8 1749.3 1857.3 1750.4 1857.7C1751.5 1858.1 1753.1 1861.1 1752.7 1862.3C1752.3 1863.4 1749.3 1865.0 1748.1 1864.6C1747.0 1864.2 1745.4 1861.1 1745.8 1860.0Z" fill="#d3d2ec" opacity="0.85"/>
</g>
<g id="fibro">
<path d="M1964.4 1865.7C1964.4 1864.4 1965.1 1862.3 1971.5 1862.3C1978.0 1862.3 1992.6 1865.0 2003.1 1865.7C2013.6 1866.4 2024.1 1867.2 2034.6 1866.5C2045.1 1865.9 2055.6 1864.0 2066.2 1861.8C2076.7 1859.6 2088.5 1855.6 2097.7 1853.1C2106.9 1850.7 2113.5 1848.5 2121.4 1847.1C2129.2 1845.7 2137.1 1844.9 2145.0 1844.6C2152.9 1844.3 2160.8 1844.6 2168.7 1845.5C2176.6 1846.5 2183.1 1847.7 2192.3 1850.3C2201.5 1852.9 2213.4 1857.1 2223.9 1861.3C2234.4 1865.5 2244.9 1870.6 2255.4 1875.5C2265.9 1880.5 2278.3 1887.1 2286.9 1891.0C2295.6 1894.9 2303.5 1897.1 2307.4 1898.9C2311.4 1900.6 2311.6 1900.4 2310.9 1901.2C2310.3 1902.0 2308.8 1903.7 2303.5 1903.6C2298.2 1903.5 2288.4 1901.5 2279.1 1900.7C2269.7 1900.0 2258.0 1898.5 2247.5 1898.9C2237.0 1899.2 2226.5 1900.7 2216.0 1902.8C2205.5 1904.9 2195.0 1909.1 2184.4 1911.5C2173.9 1913.8 2163.4 1915.9 2152.9 1917.0C2142.4 1918.0 2131.9 1918.3 2121.4 1917.8C2110.8 1917.3 2100.3 1915.9 2089.8 1913.8C2079.3 1911.7 2068.8 1908.7 2058.3 1905.2C2047.8 1901.6 2037.3 1896.7 2026.7 1892.5C2016.2 1888.3 2004.4 1883.6 1995.2 1879.9C1986.0 1876.2 1976.7 1872.8 1971.5 1870.5C1966.4 1868.1 1964.4 1867.1 1964.4 1865.7Z" fill="#d4bfb0" stroke="#a8653e" stroke-width="2"/>
<ellipse cx="2143.4" cy="1881.5" rx="36.3" ry="15.8" fill="#bb9f8f" stroke="#9a8070" stroke-width="1.6"/>
</g>
</g>

<g id="labels" filter="url(#fHalo)">
<text class="lbl" transform="translate(1773.8 217.8) scale(1.0679 1)" letter-spacing="0.90">Reduced hepatic</text>
<text class="lbl" transform="translate(1775.5 284.6) scale(1.0811 1)" letter-spacing="0.90">glucose production</text>
<text class="lbl" transform="translate(1114.9 530.4) scale(1.0707 1)" letter-spacing="0.90">Improved</text>
<text class="lbl" transform="translate(1115.0 599.0) scale(1.0818 1)" letter-spacing="0.90">beta-cell</text>
<text class="lbl" transform="translate(1115.8 667.0) scale(1.0852 1)" letter-spacing="0.90">function</text>
<text class="lbl" transform="translate(2424.5 525.7) scale(1.0493 1)" letter-spacing="0.90">Reduced Fat</text>
<text class="lbl" transform="translate(2425.9 594.1) scale(1.0671 1)" letter-spacing="0.90">Mass and</text>
<text class="lbl" transform="translate(2424.2 661.8) scale(1.0660 1)" letter-spacing="0.90">Increased Adipose</text>
<text class="lbl" transform="translate(2428.8 730.7) scale(1.0586 1)" letter-spacing="0.90">Tissue Glucose Uptake</text>
<text class="lbl" transform="translate(2471.7 1235.0) scale(1.0622 1)" letter-spacing="0.90">Normal bone</text>
<text class="lbl" transform="translate(2471.2 1303.7) scale(1.0541 1)" letter-spacing="0.90">mineral density</text>
<text class="lbl" transform="translate(1039.5 1229.3) scale(1.0391 1)" letter-spacing="0.90">Preserved lean</text>
<text class="lbl" transform="translate(1039.7 1298.3) scale(1.0552 1)" letter-spacing="0.90">mass and increased</text>
<text class="lbl" transform="translate(1040.3 1366.3) scale(1.0588 1)" letter-spacing="0.90">skeletal muscle</text>
<text class="lbl" transform="translate(1039.7 1434.9) scale(1.0728 1)" letter-spacing="0.90">glucose uptake</text>
<text class="lbl" transform="translate(1774.4 1646.4) scale(1.0599 1)" letter-spacing="0.90">Reduced immune</text>
<text class="lbl" transform="translate(1775.4 1715.1) scale(1.0724 1)" letter-spacing="0.90">system activation</text>
</g>
</svg>
</body>
</html>
